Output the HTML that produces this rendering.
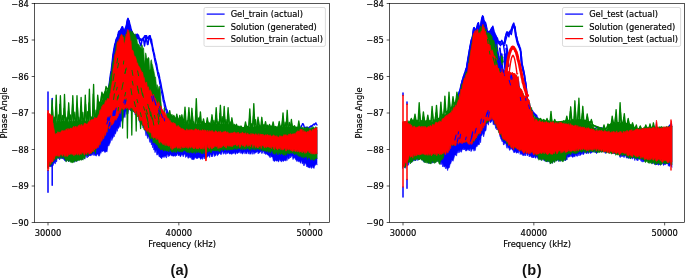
<!DOCTYPE html>
<html><head><meta charset="utf-8"><title>Phase angle vs frequency</title>
<style>
html,body{margin:0;padding:0;background:#fff;}
svg{display:block;will-change:transform;}
.tl{font-family:"DejaVu Sans","Liberation Sans",sans-serif;font-size:8.33px;fill:#000;stroke:#000;stroke-width:0.16px;}
.pl{font-family:"Liberation Sans","DejaVu Sans",sans-serif;font-size:14.6px;font-weight:bold;fill:#111;}
.tk{stroke:#000;stroke-width:0.67;}
.sp{fill:none;stroke:#000;stroke-width:0.67;}
.lg{fill:#fff;fill-opacity:0.8;stroke:#ccc;stroke-width:0.7;}
</style></head>
<body>
<svg width="685" height="278" viewBox="0 0 685 278">
<rect width="685" height="278" fill="#fff"/>
<defs>
<clipPath id="ca"><rect x="34.6" y="3.5" width="295.0" height="219.0"/></clipPath>
<clipPath id="cb"><rect x="389.6" y="3.5" width="295.0" height="219.0"/></clipPath>
</defs>
<g clip-path="url(#ca)">
<path d="M47.6,113.5 48.2,114.3 48.8,115.2 49.4,114.9 50.0,115.8 50.6,117.6 51.2,116.6 51.8,119.8 52.4,124.5 53.0,127.6 53.6,130.7 54.2,132.0 54.8,133.4 55.4,135.3 56.0,135.1 56.6,134.9 57.2,135.4 57.8,134.9 58.4,134.5 59.0,134.8 59.6,133.6 60.2,133.3 60.8,133.8 61.4,132.8 62.0,132.6 62.6,133.1 63.2,132.8 63.8,133.3 64.4,132.6 65.0,132.2 65.6,132.0 66.2,131.4 66.8,130.8 67.4,130.8 68.0,131.4 68.6,130.4 69.2,130.4 69.8,129.7 70.4,130.7 71.0,129.5 71.6,129.5 72.2,130.2 72.8,129.5 73.4,129.8 74.0,129.4 74.6,129.3 75.2,128.2 75.8,128.7 76.4,128.5 77.0,128.8 77.6,127.9 78.2,128.1 78.8,127.1 79.4,127.4 80.0,127.1 80.6,126.7 81.2,127.5 81.8,126.6 82.4,127.3 83.0,126.4 83.6,126.2 84.2,126.0 84.8,125.7 85.4,124.7 86.0,124.8 86.6,124.3 87.2,124.3 87.8,123.5 88.4,124.6 89.0,123.2 89.6,123.6 90.2,122.8 90.8,123.4 91.4,123.4 92.0,118.8 92.6,119.6 93.2,119.3 93.8,118.7 94.4,117.6 95.0,116.3 95.6,115.9 96.2,116.7 96.8,115.5 97.4,114.3 98.0,115.1 98.6,114.2 99.2,113.1 99.8,111.3 100.4,110.0 101.0,108.1 101.6,106.2 102.2,107.1 102.8,105.3 103.4,104.2 104.0,102.3 104.6,102.1 105.2,98.5 105.8,98.0 106.4,95.5 107.0,94.3 107.6,95.5 108.2,92.7 108.8,87.7 109.4,84.0 110.0,81.8 110.6,74.6 111.2,71.8 111.8,68.3 112.4,61.5 113.0,57.2 113.6,53.0 114.2,50.2 114.8,44.8 115.4,45.3 116.0,39.3 116.6,40.0 117.2,38.4 117.8,34.7 118.4,33.8 119.0,33.2 119.6,30.7 120.2,31.3 120.8,30.8 121.4,28.8 122.0,27.5 122.6,27.4 123.2,29.0 123.8,31.5 124.4,31.8 125.0,30.2 125.6,30.2 126.2,26.9 126.8,23.4 127.4,20.6 128.0,19.6 128.6,20.5 129.2,24.8 129.8,25.7 130.4,28.9 131.0,48.4 131.6,48.9 132.2,50.9 132.8,52.8 133.4,55.3 134.0,55.4 134.6,58.3 135.2,57.4 135.8,59.8 136.4,61.4 137.0,64.0 137.6,63.4 138.2,66.2 138.8,67.2 139.4,68.6 140.0,69.6 140.6,71.8 141.2,71.5 141.8,73.0 142.4,74.0 143.0,75.1 143.6,77.0 144.2,80.5 144.8,81.8 145.4,81.3 146.0,84.1 146.6,85.1 147.2,86.7 147.8,88.2 148.4,88.6 149.0,91.7 149.6,91.7 150.2,93.4 150.8,94.4 151.4,94.2 152.0,94.7 152.6,96.3 153.2,97.8 153.8,98.7 154.4,99.3 155.0,98.9 155.6,101.3 156.2,101.9 156.8,102.9 157.4,103.1 158.0,105.0 158.6,104.0 159.2,105.0 159.8,105.9 160.4,107.5 161.0,108.5 161.6,109.3 162.2,111.2 162.8,111.0 163.4,113.3 164.0,113.3 164.6,115.3 165.2,114.7 165.8,116.1 166.4,118.2 167.0,118.2 167.6,119.5 168.2,120.0 168.8,120.7 169.4,120.6 170.0,122.2 170.6,121.9 171.2,124.2 171.8,124.9 172.4,125.0 173.0,124.1 173.6,124.9 174.2,125.3 174.8,125.3 175.4,126.5 176.0,127.2 176.6,126.8 177.2,128.0 177.8,128.3 178.4,127.6 179.0,129.0 179.6,129.5 180.2,128.8 180.8,129.8 181.4,130.1 182.0,130.2 182.6,129.6 183.2,130.6 183.8,130.7 184.4,131.1 185.0,131.3 185.6,130.8 186.2,131.5 186.8,131.9 187.4,132.1 188.0,131.2 188.6,131.2 189.2,132.2 189.8,131.8 190.4,132.2 191.0,132.7 191.6,131.9 192.2,131.7 192.8,131.9 193.4,132.2 194.0,131.4 194.6,132.0 195.2,128.0 195.8,130.6 196.4,133.1 197.0,131.8 197.6,131.8 198.2,132.1 198.8,131.7 199.4,131.8 200.0,131.9 200.6,132.1 201.2,131.7 201.8,132.6 202.4,132.4 203.0,132.1 203.6,131.9 204.2,132.8 204.8,132.0 205.4,132.0 206.0,132.1 206.6,132.1 207.2,133.2 207.8,132.4 208.4,132.5 209.0,133.2 209.6,133.0 210.2,132.5 210.8,132.8 211.4,133.4 212.0,132.8 212.6,133.3 213.2,132.5 213.8,133.4 214.4,133.5 215.0,133.6 215.6,133.5 216.2,133.1 216.8,132.8 217.4,133.4 218.0,133.7 218.6,133.0 219.2,133.2 219.8,133.6 220.4,133.9 221.0,134.1 221.6,133.2 222.2,133.3 222.8,134.1 223.4,134.0 224.0,134.1 224.6,134.5 225.2,134.5 225.8,134.4 226.4,134.4 227.0,133.9 227.6,134.3 228.2,133.7 228.8,134.5 229.4,134.6 230.0,134.5 230.6,134.2 231.2,134.2 231.8,134.3 232.4,133.8 233.0,134.9 233.6,134.6 234.2,134.4 234.8,134.7 235.4,134.9 236.0,134.5 236.6,135.2 237.2,135.3 237.8,134.7 238.4,134.4 239.0,135.2 239.6,135.6 240.2,134.5 240.8,135.3 241.4,135.5 242.0,135.7 242.6,134.7 243.2,134.7 243.8,135.9 244.4,134.8 245.0,134.9 245.6,135.5 246.2,135.4 246.8,135.8 247.4,135.1 248.0,136.1 248.6,135.2 249.2,136.0 249.8,135.1 250.4,135.7 251.0,135.2 251.6,135.6 252.2,135.7 252.8,136.2 253.4,135.9 254.0,135.5 254.6,136.7 255.2,136.6 255.8,136.7 256.4,135.9 257.0,136.1 257.6,136.0 258.2,135.9 258.8,135.8 259.4,136.5 260.0,136.0 260.6,136.1 261.2,137.1 261.8,136.6 262.4,136.3 263.0,137.0 263.6,136.5 264.2,136.9 264.8,136.6 265.4,137.0 266.0,137.2 266.6,137.1 267.2,136.9 267.8,137.5 268.4,137.7 269.0,136.8 269.6,136.8 270.2,136.8 270.8,138.0 271.4,138.0 272.0,137.1 272.6,138.1 273.2,137.2 273.8,137.6 274.4,137.6 275.0,138.2 275.6,137.1 276.2,137.6 276.8,138.0 277.4,137.3 278.0,137.6 278.6,137.9 279.2,138.4 279.8,138.2 280.4,138.2 281.0,138.0 281.6,137.8 282.2,137.9 282.8,137.6 283.4,137.6 284.0,136.9 284.6,136.6 285.2,137.3 285.8,136.4 286.4,137.3 287.0,136.8 287.6,136.4 288.2,137.1 288.8,135.9 289.4,136.3 290.0,135.7 290.6,136.7 291.2,136.1 291.8,136.3 292.4,135.5 293.0,136.1 293.6,135.9 294.2,135.7 294.8,136.1 295.4,135.1 296.0,134.6 296.6,134.7 297.2,134.5 297.8,133.2 298.4,133.4 299.0,132.1 299.6,132.3 300.2,132.2 300.8,130.6 301.4,131.2 302.0,130.2 302.6,132.8 303.2,132.6 303.8,133.1 304.4,133.6 305.0,133.3 305.6,133.5 306.2,132.5 306.8,133.0 307.4,132.9 308.0,133.3 308.6,132.0 309.2,132.5 309.8,132.6 310.4,132.4 311.0,131.4 311.6,131.9 312.2,131.1 312.8,130.8 313.4,131.6 314.0,130.4 314.6,130.5 315.2,130.7 315.8,130.4 316.4,129.9 317.0,130.0 L317.0,165.1 316.4,163.3 315.8,164.7 315.2,165.5 314.6,165.9 314.0,168.5 313.4,167.7 312.8,167.7 312.2,165.8 311.6,168.3 311.0,168.3 310.4,166.1 309.8,167.8 309.2,168.0 308.6,167.1 308.0,167.6 307.4,166.3 306.8,167.0 306.2,164.8 305.6,163.6 305.0,163.0 304.4,165.3 303.8,165.9 303.2,162.4 302.6,164.1 302.0,162.6 301.4,160.0 300.8,163.4 300.2,162.7 299.6,161.3 299.0,161.6 298.4,161.8 297.8,159.7 297.2,161.4 296.6,161.3 296.0,159.8 295.4,159.5 294.8,157.8 294.2,158.0 293.6,158.1 293.0,159.6 292.4,156.1 291.8,155.7 291.2,156.9 290.6,157.9 290.0,155.2 289.4,158.4 288.8,158.6 288.2,159.3 287.6,156.5 287.0,160.7 286.4,158.5 285.8,161.2 285.2,159.9 284.6,160.2 284.0,161.1 283.4,161.4 282.8,160.4 282.2,160.9 281.6,162.1 281.0,160.2 280.4,161.3 279.8,159.8 279.2,160.0 278.6,161.9 278.0,161.6 277.4,160.2 276.8,161.2 276.2,161.0 275.6,159.8 275.0,161.3 274.4,161.3 273.8,161.2 273.2,160.5 272.6,157.1 272.0,157.1 271.4,156.9 270.8,155.3 270.2,157.8 269.6,157.1 269.0,155.7 268.4,155.6 267.8,155.1 267.2,154.7 266.6,153.4 266.0,154.6 265.4,154.2 264.8,151.9 264.2,153.8 263.6,151.3 263.0,151.3 262.4,153.1 261.8,153.7 261.2,151.3 260.6,151.7 260.0,152.0 259.4,153.2 258.8,151.9 258.2,154.0 257.6,151.3 257.0,152.3 256.4,152.2 255.8,152.7 255.2,153.1 254.6,152.7 254.0,154.3 253.4,152.6 252.8,151.6 252.2,154.4 251.6,151.5 251.0,153.5 250.4,154.2 249.8,154.2 249.2,151.6 248.6,154.1 248.0,152.3 247.4,151.4 246.8,154.1 246.2,153.0 245.6,152.2 245.0,154.1 244.4,151.5 243.8,152.6 243.2,153.1 242.6,154.1 242.0,153.7 241.4,152.2 240.8,153.5 240.2,151.6 239.6,151.7 239.0,153.2 238.4,152.1 237.8,153.2 237.2,153.7 236.6,152.1 236.0,153.5 235.4,154.4 234.8,153.6 234.2,152.6 233.6,153.4 233.0,153.0 232.4,154.1 231.8,153.8 231.2,154.4 230.6,153.6 230.0,154.1 229.4,154.0 228.8,152.9 228.2,152.4 227.6,153.1 227.0,154.0 226.4,151.7 225.8,154.5 225.2,152.0 224.6,153.5 224.0,151.8 223.4,154.3 222.8,152.2 222.2,151.5 221.6,153.9 221.0,154.8 220.4,153.9 219.8,152.9 219.2,153.8 218.6,154.1 218.0,155.3 217.4,155.8 216.8,152.9 216.2,154.7 215.6,155.8 215.0,155.4 214.4,156.6 213.8,153.6 213.2,154.0 212.6,156.5 212.0,156.4 211.4,157.0 210.8,154.3 210.2,154.7 209.6,157.5 209.0,156.0 208.4,155.7 207.8,156.4 207.2,157.2 206.6,157.8 206.0,157.5 205.4,156.4 204.8,157.3 204.2,159.0 203.6,156.7 203.0,157.6 202.4,159.4 201.8,158.4 201.2,158.2 200.6,159.4 200.0,158.3 199.4,157.4 198.8,158.1 198.2,157.6 197.6,158.2 197.0,159.0 196.4,157.9 195.8,158.2 195.2,157.0 194.6,158.2 194.0,159.8 193.4,159.6 192.8,158.8 192.2,159.9 191.6,159.0 191.0,156.7 190.4,158.1 189.8,157.8 189.2,156.2 188.6,158.0 188.0,158.4 187.4,155.5 186.8,156.7 186.2,155.8 185.6,157.5 185.0,154.1 184.4,154.3 183.8,155.1 183.2,156.8 182.6,154.4 182.0,155.4 181.4,154.0 180.8,156.5 180.2,156.7 179.6,155.2 179.0,154.9 178.4,155.9 177.8,153.7 177.2,154.3 176.6,156.0 176.0,155.1 175.4,156.4 174.8,156.0 174.2,155.7 173.6,155.9 173.0,156.4 172.4,155.7 171.8,155.9 171.2,155.4 170.6,154.1 170.0,155.5 169.4,156.2 168.8,154.7 168.2,156.8 167.6,155.1 167.0,154.4 166.4,158.1 165.8,157.0 165.2,156.1 164.6,156.2 164.0,157.7 163.4,156.6 162.8,157.2 162.2,156.9 161.6,158.9 161.0,157.1 160.4,157.9 159.8,156.2 159.2,157.0 158.6,154.8 158.0,153.3 157.4,155.0 156.8,155.1 156.2,150.5 155.6,151.0 155.0,152.7 154.4,148.9 153.8,150.1 153.2,145.1 152.6,147.8 152.0,143.5 151.4,144.9 150.8,140.0 150.2,142.7 149.6,141.8 149.0,137.8 148.4,136.0 147.8,138.6 147.2,136.8 146.6,132.4 146.0,135.8 145.4,132.2 144.8,128.4 144.2,128.1 143.6,125.5 143.0,128.0 142.4,122.7 141.8,124.4 141.2,123.9 140.6,123.4 140.0,122.4 139.4,121.5 138.8,118.8 138.2,115.2 137.6,113.4 137.0,114.9 136.4,113.2 135.8,112.4 135.2,115.0 134.6,112.2 134.0,112.4 133.4,111.4 132.8,110.0 132.2,111.2 131.6,110.7 131.0,110.6 130.4,110.7 129.8,109.3 129.2,109.6 128.6,110.2 128.0,113.7 127.4,112.8 126.8,114.4 126.2,111.1 125.6,111.9 125.0,117.6 124.4,115.6 123.8,117.7 123.2,118.5 122.6,123.2 122.0,120.8 121.4,120.7 120.8,121.7 120.2,127.2 119.6,124.7 119.0,127.6 118.4,128.5 117.8,128.3 117.2,131.4 116.6,129.1 116.0,132.6 115.4,134.2 114.8,133.5 114.2,136.8 113.6,135.4 113.0,138.0 112.4,138.8 111.8,140.6 111.2,136.4 110.6,141.4 110.0,143.2 109.4,144.6 108.8,146.1 108.2,144.4 107.6,147.9 107.0,152.1 106.4,151.3 105.8,151.7 105.2,152.4 104.6,152.2 104.0,150.9 103.4,150.9 102.8,151.4 102.2,151.6 101.6,150.9 101.0,153.3 100.4,152.6 99.8,155.1 99.2,156.2 98.6,156.0 98.0,154.2 97.4,153.9 96.8,155.0 96.2,156.2 95.6,155.5 95.0,155.3 94.4,155.3 93.8,153.0 93.2,155.6 92.6,154.2 92.0,154.7 91.4,155.1 90.8,156.1 90.2,154.9 89.6,156.0 89.0,155.2 88.4,156.9 87.8,155.4 87.2,158.0 86.6,156.8 86.0,155.6 85.4,156.3 84.8,159.2 84.2,156.7 83.6,157.3 83.0,159.1 82.4,159.8 81.8,158.8 81.2,159.7 80.6,159.7 80.0,158.9 79.4,160.0 78.8,158.9 78.2,159.0 77.6,160.5 77.0,161.4 76.4,160.5 75.8,161.2 75.2,159.4 74.6,162.3 74.0,160.3 73.4,161.0 72.8,159.8 72.2,162.0 71.6,161.8 71.0,160.2 70.4,159.8 69.8,160.9 69.2,161.5 68.6,161.1 68.0,161.3 67.4,158.8 66.8,160.7 66.2,161.1 65.6,160.9 65.0,161.2 64.4,160.2 63.8,159.4 63.2,158.8 62.6,158.6 62.0,158.8 61.4,158.5 60.8,157.2 60.2,158.7 59.6,159.9 59.0,156.9 58.4,158.7 57.8,157.8 57.2,158.5 56.6,162.0 56.0,161.1 55.4,163.8 54.8,163.4 54.2,162.5 53.6,164.3 53.0,165.8 52.4,165.0 51.8,166.6 51.2,166.3 50.6,167.1 50.0,166.4 49.4,166.5 48.8,166.2 48.2,167.2 47.6,168.0Z" fill="#0000ff" stroke="#0000ff" stroke-width="0.6" stroke-linejoin="round"/>
<polyline points="92.0,118.6 92.6,118.6 93.2,118.8 93.8,118.0 94.4,117.2 95.0,116.5 95.6,115.0 96.2,116.1 96.8,114.1 97.4,113.7 98.0,114.2 98.6,113.9 99.2,113.1 99.8,111.2 100.4,109.3 101.0,107.8 101.6,107.9 102.2,106.8 102.8,104.2 103.4,104.0 104.0,101.8 104.6,100.2 105.2,99.0 105.8,96.6 106.4,95.9 107.0,94.0 107.6,93.4 108.2,90.6 108.8,87.1 109.4,82.9 110.0,77.7 110.6,73.4 111.2,70.4 111.8,65.4 112.4,59.8 113.0,54.4 113.6,50.9 114.2,47.6 114.8,44.2 115.4,42.5 116.0,40.0 116.6,38.2 117.2,37.4 117.8,35.7 118.4,32.5 119.0,31.1 119.6,30.9 120.2,31.0 120.8,29.6 121.4,28.4 122.0,26.8 122.6,26.8 123.2,29.6 123.8,30.2 124.4,32.2 125.0,29.1 125.6,27.5 126.2,26.4 126.8,22.9 127.4,19.6 128.0,18.3 128.6,20.0 129.2,21.1 129.8,24.1 130.4,26.0 131.0,29.0 131.6,30.6 132.2,32.4 132.8,33.0 133.4,34.6 134.0,34.4 134.6,36.3 135.2,36.6 135.8,35.1 136.4,34.4 137.0,34.5 137.6,34.2 138.2,36.6 138.8,37.1 139.4,38.7 140.0,38.4 140.6,39.3 141.2,40.2 141.8,39.1 142.4,40.0 143.0,38.6 143.6,37.4 144.2,36.6 144.8,35.7 145.4,35.7 146.0,36.0 146.6,35.7 147.2,37.4 147.8,38.6 148.4,38.2 149.0,36.9 149.6,35.7 150.2,35.8 150.8,38.9 151.4,39.2 152.0,43.3 152.6,46.5 153.2,49.2 153.8,51.9 154.4,54.2 155.0,57.7 155.6,60.1 156.2,62.4 156.8,65.0 157.4,68.8 158.0,71.7 158.6,73.0 159.2,75.5 159.8,78.7 160.4,81.3 161.0,84.2 161.6,87.8 162.2,90.4 162.8,93.5 163.4,96.3 164.0,100.3 164.6,102.0 165.2,104.6 165.8,107.1 166.4,109.7 167.0,110.0 167.6,112.4 168.2,113.2 168.8,115.7 169.4,116.3 170.0,118.0 170.6,119.4 171.2,119.8 171.8,119.4 172.4,120.2 173.0,122.5 173.6,121.5 174.2,122.7 174.8,124.6 175.4,123.3 176.0,123.9 176.6,124.3 177.2,124.4 177.8,125.3 178.4,125.9 179.0,125.7 179.6,125.6 180.2,127.2 180.8,127.4" fill="none" stroke="#0000ff" stroke-width="1.45" stroke-linejoin="round" stroke-linecap="round"/>
<polyline points="92.8,119.9 93.4,119.5 94.0,118.6 94.6,118.9 95.1,117.5 95.7,117.2 96.3,116.0 96.9,116.3 97.5,116.2 98.1,115.6 98.7,114.2 99.2,115.0 99.8,113.8 100.4,111.9 101.0,110.6 101.6,109.9 102.2,107.5 102.8,107.0 103.4,105.8 103.9,104.1 104.5,103.5 105.1,101.2 105.7,99.7 106.3,97.9 106.9,97.6 107.5,95.0 108.1,94.2 108.6,91.2 109.2,88.0 109.8,83.8 110.4,78.0 111.0,75.5 111.6,70.6 112.2,65.4 112.7,61.3 113.3,55.2 113.9,50.9 114.5,47.7 115.1,45.6 115.7,42.9 116.3,41.0 116.9,39.7 117.4,38.2 118.0,35.3 118.6,34.1 119.2,31.7 119.8,31.6 120.4,32.0 121.0,29.4 121.5,29.5 122.1,27.7 122.7,27.7 123.3,30.3 123.9,31.5 124.5,33.3 125.1,29.7 125.7,27.7 126.2,26.8 126.8,23.5 127.4,20.5 128.0,19.2 128.6,20.1 129.2,22.8 129.8,25.7 130.3,28.3 130.9,29.0 131.5,31.8 132.1,34.1 132.7,34.1 133.3,35.6 133.9,35.1 134.5,37.1 135.0,36.7 135.6,36.6 136.2,35.8 136.8,35.3 137.4,34.6 138.0,37.2 138.6,37.8 139.2,38.6 139.7,39.2 140.3,40.0 140.9,40.5 141.5,41.4 142.1,39.3 142.7,38.7 143.3,38.2 143.8,38.3 144.4,37.4 145.0,37.0 145.6,37.1 146.2,37.5 146.8,37.5 147.4,37.8 148.0,38.0 148.5,37.7 149.1,36.2 149.7,36.4 150.3,38.7 150.9,40.3 151.5,43.6 152.1,46.7 152.6,50.6 153.2,52.4 153.8,55.4 154.4,58.6 155.0,61.9 155.6,64.2 156.2,66.4 156.8,69.6 157.3,71.7 157.9,75.3 158.5,76.8 159.1,79.2 159.7,83.3 160.3,85.2 160.9,89.1 161.4,91.5 162.0,94.5 162.6,96.9 163.2,101.3 163.8,102.4 164.4,106.4 165.0,108.7 165.6,109.4 166.1,110.6 166.7,113.5 167.3,114.3 167.9,115.1 168.5,117.3 169.1,118.3 169.7,119.4 170.3,120.5 170.8,121.7 171.4,122.2 172.0,121.8 172.6,123.1 173.2,123.8 173.8,125.4 174.4,124.3 174.9,125.3 175.5,126.3 176.1,125.7 176.7,125.8 177.3,126.6 177.9,126.5 178.5,127.9 179.1,126.7 179.6,127.2" fill="none" stroke="#0000ff" stroke-width="1.2" stroke-linejoin="round" stroke-linecap="round"/>
<polyline points="131.0,30.0 131.5,31.5 132.0,33.0 132.5,34.5 133.0,36.0 133.5,37.0 134.0,38.0 134.5,39.0 135.0,40.0 135.5,37.7 136.0,35.5 136.5,35.3 137.0,38.2 137.5,38.8 138.0,35.9 138.5,35.4 139.0,38.7 139.5,42.0 140.0,43.3 140.5,44.7 141.0,46.0 141.5,43.0 142.0,40.0 142.5,39.5 143.0,39.0 143.5,38.5 144.0,42.2 144.5,46.0 145.0,43.0 145.5,40.0 146.0,36.2 146.5,39.1 147.0,42.0 147.5,44.5 148.0,44.5 148.5,40.7 149.0,38.1 149.5,35.7 150.0,37.3 150.5,40.0 151.0,42.0 151.5,44.0" fill="none" stroke="#0000ff" stroke-width="1.5" stroke-linejoin="round" stroke-linecap="round"/>
<polyline points="48.0,92.0 48.0,110.7" fill="none" stroke="#0000ff" stroke-width="1.5" stroke-linejoin="round" stroke-linecap="round"/>
<polyline points="48.0,170.3 48.0,192.3" fill="none" stroke="#0000ff" stroke-width="1.5" stroke-linejoin="round" stroke-linecap="round"/>
<polyline points="52.2,98.6 52.2,115.9" fill="none" stroke="#0000ff" stroke-width="1.5" stroke-linejoin="round" stroke-linecap="round"/>
<polyline points="52.2,161.6 52.2,185.2" fill="none" stroke="#0000ff" stroke-width="1.5" stroke-linejoin="round" stroke-linecap="round"/>
<polyline points="296.0,128.7 296.6,129.5 297.2,129.4 297.8,129.3 298.4,128.1 299.0,127.6 299.6,128.1 300.2,128.9 300.8,128.5 301.4,126.0 302.0,125.2 302.6,123.6 303.2,123.8 303.8,125.4 304.4,127.7 305.0,128.1 305.6,127.4 306.2,127.1 306.8,128.2 307.4,127.3 308.0,127.8 308.6,128.4 309.2,127.3 309.8,126.8 310.4,127.1 311.0,125.7 311.6,126.5 312.2,126.1 312.8,124.9 313.4,124.6 314.0,124.0 314.6,125.0 315.2,123.6 315.8,122.9 316.4,124.0 317.0,125.0" fill="none" stroke="#0000ff" stroke-width="1.4" stroke-linejoin="round" stroke-linecap="round"/>
<path d="M47.6,122.0 48.2,121.5 48.8,122.2 49.4,121.1 50.0,121.9 50.6,121.9 51.2,121.5 51.8,121.0 52.4,121.4 53.0,122.1 53.6,121.0 54.2,120.8 54.8,121.5 55.4,121.1 56.0,122.2 56.6,122.2 57.2,122.5 57.8,122.3 58.4,121.9 59.0,121.0 59.6,122.2 60.2,122.1 60.8,122.1 61.4,122.0 62.0,122.3 62.6,121.2 63.2,121.9 63.8,121.6 64.4,121.3 65.0,121.3 65.6,120.9 66.2,121.6 66.8,121.3 67.4,121.4 68.0,122.3 68.6,122.0 69.2,122.0 69.8,122.6 70.4,121.0 71.0,121.6 71.6,120.8 72.2,121.4 72.8,122.5 73.4,120.8 74.0,122.1 74.6,122.3 75.2,121.6 75.8,122.2 76.4,121.5 77.0,121.3 77.6,121.6 78.2,121.0 78.8,121.2 79.4,121.2 80.0,122.6 80.6,121.3 81.2,121.1 81.8,122.5 82.4,120.9 83.0,122.5 83.6,122.3 84.2,121.9 84.8,121.5 85.4,121.0 86.0,120.8 86.6,120.8 87.2,121.3 87.8,121.4 88.4,122.4 89.0,121.7 89.6,122.6 90.2,122.0 90.8,120.9 91.4,121.7 92.0,120.9 92.6,120.7 93.2,122.5 93.8,121.3 94.4,121.0 95.0,120.6 95.6,121.1 96.2,117.2 96.8,111.7 97.4,113.0 98.0,106.7 98.6,107.1 99.2,104.3 99.8,103.3 100.4,101.8 101.0,101.4 101.6,101.5 102.2,99.5 102.8,95.4 103.4,95.9 104.0,93.6 104.6,91.9 105.2,91.1 105.8,90.1 106.4,91.7 107.0,89.9 107.6,89.3 108.2,87.8 108.8,85.6 109.4,83.0 110.0,80.2 110.6,76.0 111.2,73.2 111.8,71.8 112.4,63.8 113.0,61.5 113.6,59.1 114.2,56.8 114.8,53.6 115.4,51.5 116.0,45.4 116.6,43.5 117.2,42.1 117.8,40.7 118.4,41.4 119.0,41.2 119.6,38.7 120.2,35.2 120.8,35.5 121.4,36.4 122.0,35.6 122.6,35.5 123.2,35.2 123.8,35.6 124.4,36.8 125.0,37.8 125.6,35.4 126.2,33.6 126.8,31.7 127.4,31.3 128.0,32.8 128.6,31.0 129.2,31.9 129.8,30.0 130.4,30.8 131.0,32.1 131.6,32.2 132.2,31.0 132.8,32.3 133.4,33.2 134.0,34.4 134.6,34.8 135.2,33.7 135.8,37.0 136.4,38.0 137.0,40.0 137.6,43.8 138.2,43.8 138.8,44.6 139.4,45.2 140.0,46.7 140.6,47.0 141.2,49.1 141.8,44.6 142.4,46.0 143.0,49.8 143.6,47.8 144.2,59.8 144.8,63.8 145.4,52.8 146.0,53.6 146.6,57.4 147.2,58.9 147.8,58.6 148.4,57.3 149.0,57.9 149.6,69.4 150.2,69.2 150.8,60.8 151.4,59.7 152.0,63.6 152.6,65.2 153.2,68.3 153.8,70.7 154.4,73.6 155.0,77.1 155.6,77.1 156.2,83.5 156.8,87.6 157.4,84.7 158.0,90.1 158.6,87.5 159.2,86.1 159.8,87.5 160.4,91.7 161.0,101.8 161.6,107.6 162.2,116.3 162.8,118.4 163.4,119.2 164.0,107.8 164.6,107.5 165.2,117.5 165.8,117.2 166.4,114.3 167.0,113.3 167.6,113.2 168.2,114.5 168.8,115.2 169.4,117.0 170.0,115.5 170.6,116.3 171.2,118.2 171.8,118.3 172.4,118.0 173.0,118.1 173.6,117.5 174.2,119.3 174.8,119.3 175.4,119.0 176.0,118.4 176.6,118.8 177.2,119.5 177.8,119.7 178.4,119.4 179.0,120.5 179.6,120.9 180.2,120.8 180.8,121.3 181.4,121.4 182.0,121.7 182.6,122.4 183.2,122.3 183.8,121.8 184.4,123.4 185.0,122.9 185.6,123.0 186.2,123.7 186.8,124.0 187.4,124.4 188.0,124.5 188.6,124.4 189.2,124.7 189.8,123.5 190.4,124.7 191.0,123.8 191.6,123.8 192.2,123.6 192.8,124.1 193.4,123.4 194.0,124.6 194.6,124.8 195.2,124.9 195.8,123.6 196.4,124.6 197.0,125.0 197.6,123.4 198.2,123.7 198.8,123.9 199.4,124.3 200.0,123.7 200.6,124.5 201.2,124.1 201.8,124.7 202.4,124.5 203.0,124.8 203.6,123.9 204.2,124.8 204.8,124.9 205.4,124.9 206.0,123.6 206.6,125.3 207.2,124.6 207.8,124.0 208.4,124.3 209.0,124.5 209.6,124.5 210.2,123.9 210.8,124.0 211.4,124.2 212.0,125.0 212.6,124.3 213.2,123.6 213.8,124.4 214.4,123.9 215.0,123.5 215.6,125.5 216.2,124.1 216.8,124.6 217.4,124.2 218.0,123.6 218.6,125.3 219.2,125.4 219.8,123.9 220.4,124.4 221.0,124.3 221.6,123.9 222.2,124.9 222.8,125.1 223.4,125.1 224.0,124.9 224.6,123.6 225.2,124.0 225.8,124.6 226.4,125.0 227.0,124.4 227.6,124.5 228.2,125.3 228.8,123.6 229.4,124.1 230.0,124.2 230.6,126.0 231.2,124.4 231.8,124.2 232.4,125.2 233.0,125.9 233.6,125.0 234.2,126.7 234.8,125.4 235.4,126.8 236.0,125.7 236.6,127.5 237.2,126.2 237.8,127.6 238.4,128.0 239.0,126.8 239.6,126.6 240.2,127.8 240.8,127.6 241.4,127.5 242.0,128.1 242.6,127.4 243.2,127.4 243.8,127.4 244.4,127.3 245.0,127.2 245.6,126.6 246.2,126.9 246.8,126.8 247.4,126.7 248.0,127.8 248.6,126.4 249.2,126.6 249.8,127.2 250.4,126.7 251.0,126.5 251.6,126.8 252.2,127.0 252.8,127.3 253.4,127.9 254.0,127.6 254.6,126.7 255.2,126.8 255.8,126.7 256.4,126.3 257.0,127.7 257.6,125.9 258.2,126.1 258.8,127.0 259.4,126.8 260.0,126.2 260.6,127.5 261.2,126.5 261.8,126.8 262.4,125.8 263.0,127.5 263.6,125.9 264.2,126.5 264.8,127.5 265.4,127.6 266.0,127.6 266.6,127.4 267.2,126.2 267.8,125.9 268.4,126.7 269.0,125.9 269.6,127.8 270.2,125.9 270.8,126.5 271.4,126.3 272.0,125.9 272.6,126.9 273.2,126.1 273.8,127.8 274.4,127.3 275.0,126.7 275.6,127.7 276.2,127.6 276.8,126.7 277.4,127.7 278.0,127.9 278.6,127.3 279.2,126.8 279.8,127.9 280.4,128.0 281.0,126.8 281.6,126.3 282.2,127.9 282.8,127.5 283.4,126.6 284.0,127.3 284.6,126.8 285.2,128.1 285.8,126.9 286.4,126.7 287.0,126.4 287.6,127.0 288.2,128.3 288.8,126.8 289.4,127.3 290.0,128.3 290.6,126.4 291.2,127.0 291.8,128.1 292.4,126.6 293.0,128.3 293.6,128.1 294.2,126.7 294.8,127.7 295.4,127.6 296.0,127.9 296.6,127.1 297.2,127.3 297.8,127.0 298.4,127.1 299.0,126.9 299.6,128.4 300.2,128.4 300.8,127.3 301.4,128.0 302.0,127.6 302.6,127.2 303.2,127.3 303.8,128.5 304.4,127.3 305.0,127.8 305.6,128.5 306.2,127.2 306.8,128.2 307.4,126.8 308.0,128.1 308.6,128.2 309.2,128.3 309.8,128.6 310.4,128.0 311.0,128.6 311.6,127.2 312.2,127.6 312.8,127.0 313.4,126.8 314.0,127.5 314.6,128.0 315.2,128.2 315.8,126.6 316.4,128.5 317.0,127.1 L317.0,158.9 316.4,156.8 315.8,158.8 315.2,157.9 314.6,160.2 314.0,158.9 313.4,160.4 312.8,159.7 312.2,158.7 311.6,158.2 311.0,160.1 310.4,160.0 309.8,157.9 309.2,157.7 308.6,157.6 308.0,157.7 307.4,159.5 306.8,156.4 306.2,157.1 305.6,157.1 305.0,156.4 304.4,157.7 303.8,158.3 303.2,155.6 302.6,157.4 302.0,156.6 301.4,157.4 300.8,154.9 300.2,156.5 299.6,156.5 299.0,155.1 298.4,156.3 297.8,153.5 297.2,155.4 296.6,153.5 296.0,154.1 295.4,153.0 294.8,154.9 294.2,153.5 293.6,153.7 293.0,152.7 292.4,152.3 291.8,153.6 291.2,152.8 290.6,152.7 290.0,152.8 289.4,154.2 288.8,153.2 288.2,153.9 287.6,152.8 287.0,153.1 286.4,155.4 285.8,152.7 285.2,154.9 284.6,155.5 284.0,154.8 283.4,154.9 282.8,154.5 282.2,154.1 281.6,153.5 281.0,153.9 280.4,154.7 279.8,153.9 279.2,152.5 278.6,152.7 278.0,155.0 277.4,154.0 276.8,152.6 276.2,152.5 275.6,153.7 275.0,154.5 274.4,153.7 273.8,152.5 273.2,154.1 272.6,151.5 272.0,150.7 271.4,150.7 270.8,152.5 270.2,153.0 269.6,151.0 269.0,151.3 268.4,152.5 267.8,150.1 267.2,151.4 266.6,151.9 266.0,151.3 265.4,151.1 264.8,150.1 264.2,151.0 263.6,150.9 263.0,150.5 262.4,149.1 261.8,150.8 261.2,148.7 260.6,148.7 260.0,150.1 259.4,149.7 258.8,149.5 258.2,148.7 257.6,149.0 257.0,149.0 256.4,148.5 255.8,150.4 255.2,148.2 254.6,148.1 254.0,149.9 253.4,148.1 252.8,149.7 252.2,148.1 251.6,148.4 251.0,148.8 250.4,150.3 249.8,150.2 249.2,149.4 248.6,149.1 248.0,148.3 247.4,147.5 246.8,149.3 246.2,147.6 245.6,149.8 245.0,148.1 244.4,148.7 243.8,149.7 243.2,150.0 242.6,148.2 242.0,147.6 241.4,150.1 240.8,148.4 240.2,149.0 239.6,148.2 239.0,148.7 238.4,148.1 237.8,147.8 237.2,149.6 236.6,148.3 236.0,149.7 235.4,148.6 234.8,148.7 234.2,148.2 233.6,149.5 233.0,149.8 232.4,148.7 231.8,150.1 231.2,149.3 230.6,150.0 230.0,149.0 229.4,150.3 228.8,150.0 228.2,149.7 227.6,149.3 227.0,150.7 226.4,150.1 225.8,149.4 225.2,149.7 224.6,148.8 224.0,149.9 223.4,151.0 222.8,150.1 222.2,149.3 221.6,149.5 221.0,149.1 220.4,151.2 219.8,151.5 219.2,151.8 218.6,151.3 218.0,150.1 217.4,150.7 216.8,150.7 216.2,151.3 215.6,150.2 215.0,150.9 214.4,150.8 213.8,150.9 213.2,150.2 212.6,150.6 212.0,150.3 211.4,152.5 210.8,152.7 210.2,151.6 209.6,151.3 209.0,150.3 208.4,151.8 207.8,152.4 207.2,150.7 206.6,152.7 206.0,158.5 205.4,153.5 204.8,150.0 204.2,153.7 203.6,151.6 203.0,151.5 202.4,153.9 201.8,152.7 201.2,153.7 200.6,151.5 200.0,152.2 199.4,153.1 198.8,152.1 198.2,151.6 197.6,151.9 197.0,152.9 196.4,151.1 195.8,151.3 195.2,153.7 194.6,151.2 194.0,152.2 193.4,152.3 192.8,153.2 192.2,152.7 191.6,152.7 191.0,151.6 190.4,151.7 189.8,153.2 189.2,153.0 188.6,151.9 188.0,152.3 187.4,152.7 186.8,150.8 186.2,152.2 185.6,150.8 185.0,150.4 184.4,150.6 183.8,151.1 183.2,150.4 182.6,152.0 182.0,152.2 181.4,150.7 180.8,152.2 180.2,151.3 179.6,151.9 179.0,150.1 178.4,151.7 177.8,150.7 177.2,150.5 176.6,152.3 176.0,152.5 175.4,150.7 174.8,150.4 174.2,152.5 173.6,150.2 173.0,151.7 172.4,152.2 171.8,152.1 171.2,151.6 170.6,150.8 170.0,149.4 169.4,149.7 168.8,152.0 168.2,149.7 167.6,150.7 167.0,151.2 166.4,151.1 165.8,150.1 165.2,150.5 164.6,148.4 164.0,151.2 163.4,150.7 162.8,148.6 162.2,150.0 161.6,149.2 161.0,150.1 160.4,149.9 159.8,148.4 159.2,147.0 158.6,148.1 158.0,145.7 157.4,145.4 156.8,144.1 156.2,144.6 155.6,143.8 155.0,141.7 154.4,143.1 153.8,140.2 153.2,143.0 152.6,139.0 152.0,138.9 151.4,137.5 150.8,139.2 150.2,138.9 149.6,137.0 149.0,135.0 148.4,133.8 147.8,133.7 147.2,132.7 146.6,131.1 146.0,129.0 145.4,130.1 144.8,130.3 144.2,130.0 143.6,128.7 143.0,124.2 142.4,126.1 141.8,124.3 141.2,121.4 140.6,120.6 140.0,120.2 139.4,120.3 138.8,120.5 138.2,114.7 137.6,116.9 137.0,116.1 136.4,115.1 135.8,115.2 135.2,111.6 134.6,113.0 134.0,110.9 133.4,111.6 132.8,110.9 132.2,109.4 131.6,110.7 131.0,111.1 130.4,106.0 129.8,108.2 129.2,106.6 128.6,107.3 128.0,106.7 127.4,106.5 126.8,107.4 126.2,107.2 125.6,107.9 125.0,109.0 124.4,108.3 123.8,109.2 123.2,109.2 122.6,108.5 122.0,110.3 121.4,109.9 120.8,111.0 120.2,111.1 119.6,110.3 119.0,111.0 118.4,112.4 117.8,115.6 117.2,117.0 116.6,115.3 116.0,116.2 115.4,119.7 114.8,119.0 114.2,119.5 113.6,121.5 113.0,120.4 112.4,123.8 111.8,124.9 111.2,122.3 110.6,125.0 110.0,124.0 109.4,125.5 108.8,128.2 108.2,128.1 107.6,128.6 107.0,131.9 106.4,130.0 105.8,131.0 105.2,133.0 104.6,134.5 104.0,136.6 103.4,137.9 102.8,136.3 102.2,139.8 101.6,138.2 101.0,140.9 100.4,142.8 99.8,145.0 99.2,142.4 98.6,145.0 98.0,146.7 97.4,145.7 96.8,147.7 96.2,145.4 95.6,153.7 95.0,150.8 94.4,151.5 93.8,151.4 93.2,151.3 92.6,152.7 92.0,152.9 91.4,153.7 90.8,153.3 90.2,153.4 89.6,152.8 89.0,153.6 88.4,154.6 87.8,156.2 87.2,153.9 86.6,154.9 86.0,153.3 85.4,155.8 84.8,158.8 84.2,158.2 83.6,157.0 83.0,160.2 82.4,158.5 81.8,159.4 81.2,160.5 80.6,158.8 80.0,160.1 79.4,160.6 78.8,160.2 78.2,160.7 77.6,160.0 77.0,161.2 76.4,161.6 75.8,160.8 75.2,161.4 74.6,160.5 74.0,162.5 73.4,162.0 72.8,162.4 72.2,163.1 71.6,162.3 71.0,162.2 70.4,162.2 69.8,160.5 69.2,160.6 68.6,162.0 68.0,160.0 67.4,160.5 66.8,160.0 66.2,162.1 65.6,160.5 65.0,159.5 64.4,158.4 63.8,157.1 63.2,156.6 62.6,158.5 62.0,157.4 61.4,156.2 60.8,158.7 60.2,156.1 59.6,156.0 59.0,158.4 58.4,157.4 57.8,157.6 57.2,158.3 56.6,159.4 56.0,158.9 55.4,158.6 54.8,160.5 54.2,159.0 53.6,161.5 53.0,161.2 52.4,162.0 51.8,164.5 51.2,163.2 50.6,165.3 50.0,166.4 49.4,165.4 48.8,165.9 48.2,166.8 47.6,168.7Z" fill="#008000" stroke="#008000" stroke-width="0.6" stroke-linejoin="round"/>
<polyline points="51.1,122.0 52.1,100.0 53.1,122.0 55.2,122.0 56.2,95.1 57.2,122.0 59.4,122.0 60.4,95.7 61.4,122.0 63.5,122.0 64.5,94.5 65.5,122.0 67.7,122.0 68.7,102.8 69.8,122.0 71.8,122.0 72.8,95.7 73.8,122.0 76.0,122.0 77.0,95.7 78.0,122.0 80.0,122.0 81.1,97.5 82.1,122.0 84.2,122.0 85.3,95.1 86.3,122.0 88.4,122.0 89.4,89.2 90.5,122.0 92.5,122.0 93.6,84.5 94.6,122.0 96.7,114.6 97.7,95.1 98.8,105.1 100.9,100.8 101.9,92.1 103.0,96.6 105.0,92.6 106.0,86.5 107.0,88.8" fill="none" stroke="#008000" stroke-width="1.35" stroke-linejoin="round" stroke-linecap="round"/>
<polyline points="51.3,122.0 52.3,107.7 53.3,122.0 55.1,122.0 56.1,107.8 57.1,122.0 58.9,122.0 59.9,104.3 60.9,122.0 63.1,122.0 64.1,108.5 65.1,122.0 67.4,122.0 68.4,110.9 69.4,122.0 71.6,122.0 72.6,104.4 73.6,122.0 76.4,122.0 77.4,106.9 78.4,122.0 80.3,122.0 81.3,109.7 82.3,122.0 84.6,122.0 85.6,104.3 86.6,122.0 88.0,122.0 89.0,102.8 90.0,122.0 92.3,122.0 93.3,94.1 94.3,122.0 97.1,112.3 98.1,101.6 99.1,104.3 100.8,100.9 101.8,94.1 102.8,96.9 105.3,92.0 106.3,88.3 107.3,88.5" fill="none" stroke="#008000" stroke-width="1.3" stroke-linejoin="round" stroke-linecap="round"/>
<polyline points="53.4,122.0 54.3,117.2 55.2,122.0 57.6,122.0 58.5,114.9 59.4,122.0 61.8,122.0 62.7,115.4 63.6,122.0 66.0,122.0 66.9,117.0 67.8,122.0 69.5,122.0 70.4,114.9 71.3,122.0 73.9,122.0 74.8,112.2 75.7,122.0 77.9,122.0 78.8,117.1 79.7,122.0 81.9,122.0 82.8,112.3 83.7,122.0 86.7,122.0 87.6,111.7 88.5,122.0 90.4,122.0 91.3,116.8 92.2,122.0 95.0,122.0 95.9,110.2 96.8,114.1 98.6,105.5 99.5,103.9 100.4,101.8 103.4,95.6 104.3,97.3 105.2,92.0" fill="none" stroke="#008000" stroke-width="1.2" stroke-linejoin="round" stroke-linecap="round"/>
<polyline points="168.6,115.6 169.7,110.7 170.8,117.3 172.8,118.1 173.8,115.4 174.9,118.9 175.8,119.4 176.8,114.2 177.9,120.4 178.8,120.9 179.8,115.4 180.9,121.9 180.8,121.9 181.9,114.8 183.0,122.6 183.9,122.9 185.0,107.1 186.1,123.5 187.8,124.1 188.9,107.7 190.0,124.7 190.8,124.7 191.9,108.3 193.0,124.7 195.2,124.7 196.3,98.6 197.4,124.8 199.3,124.8 200.4,111.9 201.5,124.8 202.4,124.8 203.5,119.0 204.6,124.8 206.2,124.8 207.3,117.8 208.4,124.8 210.9,124.9 212.0,114.8 213.1,124.9 215.1,124.9 216.2,107.7 217.2,124.9 219.3,124.9 220.4,105.3 221.5,124.9 223.1,124.9 224.2,106.5 225.2,125.0 227.0,125.0 228.1,107.7 229.2,125.0 230.8,125.3 231.9,117.8 233.0,125.9 235.3,126.6 236.4,124.3 237.5,127.2 239.9,128.0 241.0,126.0 242.1,127.9 244.4,127.8 245.5,122.0 246.6,127.7 248.8,127.6 249.8,108.9 250.9,127.5 252.8,127.4 253.8,103.6 254.9,127.3 256.9,127.2 258.0,117.2 259.1,127.0 260.8,127.0 261.8,117.3 262.9,127.1 264.4,127.1 265.5,121.7 266.6,127.2 268.4,127.2 269.5,124.5 270.6,127.3 272.1,127.3 273.1,122.0 274.2,127.4 278.1,127.5 279.2,121.5 280.2,127.5 281.9,127.5 283.0,112.9 284.1,127.6 286.1,127.7 287.2,110.3 288.2,127.7 290.3,127.8 291.4,119.5 292.4,127.8 293.4,127.8 294.5,125.8 295.6,127.9 297.8,127.9 298.8,121.0 299.9,128.0" fill="none" stroke="#008000" stroke-width="1.35" stroke-linejoin="round" stroke-linecap="round"/>
<polyline points="168.4,115.4 169.4,114.0 170.4,117.2 173.2,118.3 174.2,116.6 175.2,119.1 176.2,119.6 177.2,116.4 178.2,120.6 178.7,120.9 179.7,118.1 180.7,121.9 180.6,121.8 181.6,117.4 182.6,122.5 183.8,122.8 184.8,112.6 185.8,123.4 187.9,124.1 188.9,112.5 189.9,124.7 191.2,124.7 192.2,113.4 193.2,124.7 195.2,124.7 196.2,111.0 197.2,124.8 199.0,124.8 200.0,117.0 201.0,124.8 202.6,124.8 203.6,121.6 204.6,124.8 206.7,124.8 207.7,121.5 208.7,124.8 210.6,124.9 211.6,120.3 212.6,124.9 215.2,124.9 216.2,116.1 217.2,124.9 219.1,124.9 220.1,113.4 221.1,124.9 223.4,125.0 224.4,116.3 225.4,125.0 227.4,125.0 228.4,113.3 229.4,125.0 231.2,125.4 232.2,121.3 233.2,126.0 235.6,126.7 236.6,125.7 237.6,127.3 239.9,128.0 240.9,127.1 241.9,127.9 244.9,127.8 245.9,125.0 246.9,127.7 248.7,127.6 249.7,117.0 250.7,127.5 252.5,127.4 253.5,115.8 254.5,127.3 257.4,127.1 258.4,120.2 259.4,127.0 261.0,127.0 262.0,122.1 263.0,127.1 264.0,127.1 265.0,124.8 266.0,127.2 268.5,127.2 269.5,125.4 270.5,127.3 271.6,127.3 272.6,124.8 273.6,127.3 278.0,127.5 279.0,124.1 280.0,127.5 281.7,127.5 282.7,119.7 283.7,127.6 286.1,127.7 287.1,119.6 288.1,127.7 290.6,127.8 291.6,123.7 292.6,127.8 293.3,127.8 294.3,126.4 295.3,127.9 298.2,128.0 299.2,125.0 300.2,128.0" fill="none" stroke="#008000" stroke-width="1.3" stroke-linejoin="round" stroke-linecap="round"/>
<polyline points="171.0,117.4 171.9,114.5 172.8,118.1 175.1,119.1 176.0,117.9 176.9,120.0 177.9,120.4 178.8,119.0 179.7,121.3 181.1,122.0 182.0,120.1 182.9,122.6 182.7,122.5 183.6,119.2 184.5,123.0 186.3,123.6 187.2,120.5 188.1,124.1 190.2,124.7 191.1,121.4 192.0,124.7 192.7,124.7 193.6,121.7 194.5,124.7 197.8,124.8 198.7,117.9 199.6,124.8 201.5,124.8 202.4,121.7 203.3,124.8 204.4,124.8 205.3,123.4 206.2,124.8 208.6,124.8 209.5,122.8 210.4,124.9 213.0,124.9 213.9,120.3 214.8,124.9 217.1,124.9 218.0,121.5 218.9,124.9 221.3,124.9 222.2,116.5 223.1,124.9 225.1,125.0 226.0,119.5 226.9,125.0 229.3,125.0 230.2,121.8 231.1,125.3 233.3,126.0 234.2,124.3 235.1,126.5 237.9,127.4 238.8,126.1 239.7,127.9 241.9,127.9 242.8,127.6 243.7,127.8 246.4,127.7 247.3,126.2 248.2,127.6 250.8,127.5 251.7,123.7 252.6,127.4 254.7,127.3 255.6,119.6 256.5,127.2 258.9,127.1 259.8,125.2 260.7,127.0 263.0,127.1 263.9,124.5 264.8,127.1 266.5,127.2 267.4,125.0 268.3,127.2 270.9,127.3 271.8,126.6 272.7,127.3 274.4,127.4 275.3,126.5 276.2,127.4 280.4,127.5 281.3,125.1 282.2,127.6 284.2,127.6 285.1,122.2 286.0,127.7 288.4,127.7 289.3,122.3 290.2,127.8 292.6,127.8 293.5,126.3 294.4,127.9 295.9,127.9 296.8,127.2 297.7,127.9" fill="none" stroke="#008000" stroke-width="1.2" stroke-linejoin="round" stroke-linecap="round"/>
<polyline points="122.2,109.5 122.6,128.0 123.0,109.5" fill="none" stroke="#008000" stroke-width="1.3" stroke-linejoin="round" stroke-linecap="round"/>
<polyline points="127.0,108.5 127.4,138.0 127.8,108.5" fill="none" stroke="#008000" stroke-width="1.3" stroke-linejoin="round" stroke-linecap="round"/>
<polyline points="131.4,109.4 131.8,135.0 132.2,109.4" fill="none" stroke="#008000" stroke-width="1.3" stroke-linejoin="round" stroke-linecap="round"/>
<polyline points="135.8,112.9 136.2,131.0 136.6,112.9" fill="none" stroke="#008000" stroke-width="1.3" stroke-linejoin="round" stroke-linecap="round"/>
<polyline points="140.2,120.9 140.6,128.5 141.0,120.9" fill="none" stroke="#008000" stroke-width="1.3" stroke-linejoin="round" stroke-linecap="round"/>
<path d="M47.6,112.7 48.2,111.1 48.8,115.0 49.4,113.6 50.0,113.8 50.6,114.4 51.2,116.1 51.8,117.3 52.4,124.3 53.0,122.8 53.6,127.1 54.2,129.5 54.8,133.3 55.4,134.8 56.0,133.3 56.6,133.5 57.2,133.4 57.8,131.6 58.4,132.0 59.0,133.8 59.6,131.9 60.2,133.3 60.8,131.9 61.4,131.0 62.0,130.3 62.6,130.7 63.2,130.7 63.8,130.8 64.4,130.6 65.0,130.7 65.6,130.3 66.2,128.9 66.8,129.3 67.4,130.9 68.0,128.2 68.6,129.8 69.2,128.9 69.8,129.3 70.4,128.1 71.0,128.1 71.6,128.3 72.2,129.1 72.8,127.4 73.4,126.6 74.0,126.3 74.6,128.3 75.2,126.7 75.8,126.0 76.4,127.0 77.0,127.5 77.6,126.7 78.2,125.4 78.8,125.8 79.4,125.3 80.0,124.5 80.6,126.7 81.2,125.3 81.8,124.2 82.4,126.0 83.0,126.0 83.6,125.3 84.2,123.4 84.8,123.0 85.4,123.6 86.0,123.5 86.6,124.1 87.2,124.1 87.8,123.6 88.4,121.8 89.0,122.2 89.6,120.7 90.2,121.5 90.8,120.0 91.4,119.8 92.0,119.6 92.6,119.7 93.2,119.3 93.8,120.0 94.4,117.6 95.0,117.3 95.6,118.5 96.2,118.1 96.8,117.9 97.4,117.4 98.0,116.2 98.6,114.7 99.2,114.6 99.8,110.3 100.4,109.5 101.0,110.7 101.6,106.6 102.2,107.0 102.8,104.8 103.4,104.6 104.0,105.2 104.6,103.5 105.2,101.7 105.8,100.2 106.4,101.4 107.0,100.0 107.6,98.3 108.2,99.1 108.8,98.4 109.4,98.7 110.0,93.7 110.6,92.8 111.2,87.6 111.8,84.2 112.4,80.6 113.0,69.8 113.6,67.5 114.2,63.4 114.8,54.5 115.4,55.2 116.0,51.2 116.6,49.7 117.2,42.6 117.8,41.6 118.4,42.4 119.0,38.9 119.6,39.6 120.2,36.9 120.8,35.6 121.4,34.3 122.0,34.4 122.6,37.0 123.2,37.1 123.8,42.1 124.4,44.5 125.0,41.6 125.6,37.7 126.2,34.1 126.8,37.9 127.4,29.8 128.0,29.5 128.6,31.3 129.2,32.9 129.8,35.9 130.4,42.5 131.0,40.6 131.6,49.5 132.2,50.0 132.8,50.2 133.4,51.5 134.0,55.1 134.6,56.4 135.2,56.3 135.8,57.8 136.4,59.9 137.0,63.4 137.6,62.9 138.2,65.6 138.8,66.0 139.4,66.9 140.0,67.9 140.6,70.1 141.2,70.5 141.8,73.1 142.4,71.9 143.0,74.1 143.6,78.4 144.2,77.5 144.8,81.3 145.4,83.2 146.0,82.9 146.6,81.9 147.2,86.3 147.8,87.2 148.4,86.8 149.0,90.8 149.6,90.3 150.2,89.7 150.8,90.9 151.4,92.3 152.0,94.6 152.6,96.1 153.2,94.2 153.8,94.8 154.4,97.8 155.0,97.8 155.6,98.8 156.2,101.0 156.8,102.2 157.4,103.4 158.0,103.7 158.6,101.5 159.2,103.1 159.8,106.0 160.4,108.5 161.0,105.9 161.6,108.7 162.2,109.2 162.8,110.2 163.4,110.7 164.0,111.7 164.6,112.4 165.2,112.7 165.8,115.2 166.4,115.6 167.0,117.4 167.6,117.9 168.2,119.9 168.8,118.4 169.4,121.2 170.0,120.1 170.6,121.9 171.2,123.1 171.8,122.2 172.4,122.7 173.0,123.6 173.6,122.4 174.2,124.1 174.8,123.1 175.4,123.9 176.0,125.4 176.6,126.8 177.2,127.3 177.8,125.5 178.4,125.5 179.0,127.0 179.6,127.1 180.2,127.3 180.8,128.8 181.4,128.7 182.0,128.5 182.6,128.8 183.2,128.9 183.8,129.3 184.4,130.1 185.0,130.3 185.6,130.6 186.2,130.4 186.8,128.7 187.4,129.7 188.0,130.7 188.6,129.7 189.2,130.6 189.8,129.4 190.4,129.8 191.0,130.2 191.6,129.4 192.2,130.2 192.8,129.7 193.4,131.1 194.0,129.8 194.6,130.5 195.2,128.7 195.8,129.2 196.4,128.9 197.0,129.6 197.6,130.6 198.2,129.6 198.8,129.8 199.4,130.7 200.0,130.4 200.6,130.0 201.2,130.7 201.8,130.9 202.4,129.6 203.0,130.1 203.6,130.3 204.2,131.6 204.8,129.7 205.4,130.5 206.0,130.2 206.6,131.4 207.2,131.7 207.8,130.0 208.4,131.9 209.0,131.5 209.6,130.5 210.2,132.1 210.8,130.7 211.4,131.9 212.0,130.3 212.6,131.2 213.2,131.4 213.8,132.3 214.4,132.2 215.0,131.6 215.6,130.5 216.2,131.4 216.8,131.3 217.4,132.8 218.0,132.1 218.6,131.5 219.2,131.5 219.8,132.5 220.4,130.9 221.0,132.7 221.6,132.4 222.2,131.9 222.8,132.5 223.4,131.9 224.0,131.3 224.6,132.0 225.2,131.2 225.8,131.3 226.4,132.2 227.0,133.1 227.6,131.7 228.2,132.4 228.8,133.6 229.4,133.3 230.0,133.5 230.6,133.0 231.2,132.9 231.8,132.9 232.4,133.0 233.0,132.7 233.6,132.5 234.2,132.3 234.8,131.9 235.4,132.7 236.0,133.6 236.6,133.2 237.2,132.3 237.8,133.9 238.4,132.1 239.0,134.2 239.6,133.6 240.2,133.4 240.8,133.1 241.4,134.1 242.0,132.3 242.6,132.3 243.2,133.6 243.8,133.1 244.4,133.4 245.0,133.7 245.6,132.6 246.2,134.9 246.8,134.2 247.4,132.9 248.0,134.4 248.6,134.0 249.2,134.4 249.8,134.6 250.4,135.2 251.0,133.2 251.6,135.3 252.2,134.2 252.8,133.6 253.4,134.0 254.0,134.0 254.6,135.3 255.2,134.5 255.8,133.5 256.4,135.0 257.0,134.6 257.6,135.4 258.2,133.6 258.8,135.6 259.4,135.7 260.0,133.7 260.6,134.8 261.2,134.0 261.8,135.0 262.4,134.1 263.0,136.0 263.6,134.4 264.2,135.5 264.8,135.6 265.4,134.8 266.0,134.6 266.6,136.3 267.2,134.3 267.8,134.9 268.4,135.1 269.0,135.7 269.6,135.3 270.2,134.7 270.8,135.8 271.4,136.2 272.0,136.3 272.6,135.8 273.2,135.4 273.8,134.8 274.4,136.0 275.0,136.3 275.6,135.9 276.2,137.2 276.8,135.5 277.4,136.9 278.0,136.8 278.6,137.2 279.2,137.3 279.8,135.5 280.4,137.1 281.0,135.7 281.6,136.3 282.2,136.9 282.8,135.9 283.4,135.8 284.0,134.4 284.6,135.6 285.2,134.7 285.8,134.9 286.4,134.8 287.0,136.2 287.6,135.2 288.2,135.4 288.8,133.9 289.4,134.1 290.0,135.4 290.6,133.5 291.2,135.4 291.8,134.1 292.4,133.9 293.0,134.1 293.6,133.8 294.2,133.8 294.8,133.6 295.4,134.2 296.0,132.5 296.6,131.8 297.2,132.1 297.8,130.7 298.4,131.3 299.0,131.0 299.6,131.5 300.2,129.0 300.8,129.4 301.4,129.9 302.0,129.0 302.6,131.6 303.2,131.9 303.8,130.3 304.4,131.4 305.0,132.2 305.6,131.5 306.2,131.8 306.8,132.5 307.4,131.6 308.0,131.2 308.6,131.8 309.2,130.7 309.8,129.6 310.4,130.0 311.0,130.7 311.6,131.4 312.2,130.2 312.8,129.1 313.4,130.8 314.0,128.9 314.6,128.2 315.2,128.8 315.8,128.0 316.4,127.1 317.0,128.5 L317.0,154.1 316.4,151.7 315.8,154.2 315.2,151.6 314.6,154.2 314.0,154.0 313.4,153.9 312.8,152.5 312.2,154.3 311.6,151.4 311.0,153.9 310.4,151.5 309.8,151.8 309.2,152.9 308.6,151.0 308.0,150.7 307.4,150.8 306.8,152.5 306.2,153.0 305.6,150.7 305.0,153.6 304.4,152.1 303.8,151.3 303.2,152.1 302.6,152.9 302.0,149.7 301.4,152.3 300.8,152.0 300.2,151.0 299.6,152.4 299.0,150.8 298.4,150.8 297.8,152.1 297.2,149.8 296.6,150.3 296.0,151.8 295.4,151.2 294.8,151.2 294.2,149.3 293.6,150.0 293.0,151.5 292.4,151.2 291.8,149.2 291.2,150.9 290.6,149.7 290.0,149.7 289.4,148.7 288.8,150.3 288.2,149.3 287.6,149.4 287.0,147.9 286.4,151.0 285.8,151.1 285.2,148.4 284.6,147.9 284.0,149.3 283.4,149.6 282.8,150.2 282.2,149.4 281.6,148.3 281.0,150.1 280.4,147.4 279.8,147.7 279.2,149.1 278.6,147.9 278.0,148.9 277.4,150.1 276.8,148.0 276.2,149.1 275.6,146.8 275.0,146.8 274.4,149.7 273.8,149.2 273.2,147.3 272.6,146.8 272.0,146.5 271.4,148.7 270.8,148.1 270.2,146.8 269.6,147.6 269.0,147.2 268.4,146.9 267.8,146.8 267.2,146.8 266.6,147.4 266.0,147.6 265.4,145.8 264.8,148.0 264.2,147.5 263.6,146.2 263.0,145.5 262.4,145.7 261.8,145.4 261.2,148.5 260.6,145.7 260.0,145.9 259.4,146.5 258.8,146.1 258.2,147.9 257.6,147.9 257.0,147.2 256.4,145.3 255.8,147.6 255.2,147.2 254.6,144.9 254.0,145.5 253.4,145.6 252.8,147.7 252.2,144.3 251.6,144.3 251.0,144.3 250.4,146.9 249.8,145.0 249.2,145.5 248.6,146.3 248.0,144.3 247.4,146.5 246.8,144.1 246.2,145.3 245.6,145.3 245.0,147.0 244.4,146.8 243.8,145.4 243.2,145.4 242.6,145.9 242.0,144.3 241.4,144.6 240.8,145.8 240.2,147.2 239.6,147.3 239.0,145.3 238.4,144.3 237.8,145.1 237.2,146.3 236.6,145.9 236.0,144.4 235.4,144.4 234.8,145.0 234.2,145.1 233.6,145.2 233.0,144.9 232.4,146.7 231.8,145.1 231.2,146.8 230.6,146.2 230.0,145.7 229.4,146.0 228.8,146.5 228.2,145.7 227.6,145.2 227.0,145.9 226.4,148.0 225.8,147.8 225.2,146.1 224.6,147.0 224.0,145.6 223.4,145.5 222.8,146.3 222.2,146.5 221.6,147.6 221.0,146.3 220.4,148.0 219.8,146.2 219.2,148.3 218.6,147.0 218.0,148.8 217.4,145.8 216.8,146.5 216.2,147.1 215.6,146.1 215.0,146.5 214.4,146.0 213.8,148.0 213.2,147.2 212.6,148.2 212.0,149.0 211.4,148.7 210.8,146.7 210.2,147.0 209.6,149.0 209.0,148.5 208.4,147.5 207.8,147.8 207.2,144.0 206.6,147.7 206.0,160.7 205.4,150.4 204.8,145.1 204.2,148.6 203.6,147.3 203.0,149.4 202.4,146.9 201.8,149.1 201.2,148.4 200.6,149.0 200.0,148.5 199.4,147.1 198.8,147.9 198.2,149.2 197.6,148.1 197.0,149.1 196.4,148.7 195.8,147.6 195.2,146.4 194.6,148.7 194.0,148.0 193.4,149.0 192.8,146.5 192.2,147.8 191.6,146.0 191.0,147.7 190.4,148.1 189.8,146.0 189.2,147.5 188.6,147.7 188.0,148.6 187.4,147.0 186.8,146.4 186.2,148.0 185.6,147.0 185.0,146.3 184.4,148.0 183.8,147.2 183.2,148.2 182.6,147.8 182.0,146.7 181.4,146.6 180.8,149.1 180.2,146.8 179.6,147.9 179.0,148.6 178.4,147.1 177.8,148.3 177.2,148.2 176.6,146.3 176.0,146.4 175.4,147.8 174.8,147.8 174.2,148.0 173.6,148.5 173.0,147.9 172.4,149.5 171.8,149.5 171.2,146.1 170.6,148.4 170.0,145.6 169.4,145.4 168.8,146.5 168.2,145.7 167.6,144.7 167.0,145.9 166.4,143.7 165.8,143.0 165.2,145.8 164.6,142.7 164.0,144.9 163.4,143.6 162.8,144.4 162.2,143.5 161.6,142.6 161.0,142.3 160.4,141.0 159.8,143.3 159.2,142.6 158.6,140.6 158.0,138.7 157.4,139.2 156.8,137.5 156.2,139.8 155.6,137.5 155.0,137.8 154.4,137.5 153.8,138.4 153.2,137.9 152.6,134.0 152.0,137.5 151.4,133.8 150.8,133.1 150.2,132.1 149.6,132.1 149.0,132.4 148.4,129.4 147.8,130.1 147.2,131.6 146.6,131.3 146.0,129.5 145.4,129.8 144.8,129.5 144.2,125.6 143.6,124.7 143.0,125.7 142.4,121.9 141.8,120.1 141.2,120.6 140.6,120.8 140.0,119.0 139.4,120.9 138.8,115.1 138.2,114.3 137.6,116.8 137.0,111.4 136.4,110.0 135.8,114.2 135.2,111.0 134.6,112.7 134.0,109.6 133.4,110.6 132.8,108.6 132.2,108.2 131.6,107.8 131.0,108.1 130.4,107.5 129.8,109.8 129.2,109.6 128.6,109.4 128.0,108.0 127.4,108.1 126.8,107.4 126.2,108.7 125.6,107.6 125.0,107.5 124.4,109.4 123.8,109.3 123.2,109.6 122.6,108.6 122.0,108.3 121.4,108.1 120.8,110.3 120.2,113.7 119.6,113.3 119.0,111.1 118.4,116.1 117.8,116.5 117.2,118.3 116.6,118.7 116.0,120.4 115.4,118.2 114.8,119.7 114.2,121.0 113.6,123.3 113.0,123.6 112.4,124.7 111.8,125.4 111.2,123.1 110.6,124.3 110.0,128.0 109.4,129.0 108.8,126.4 108.2,127.6 107.6,127.6 107.0,132.4 106.4,130.2 105.8,134.4 105.2,135.7 104.6,133.2 104.0,137.9 103.4,139.1 102.8,136.1 102.2,140.2 101.6,141.4 101.0,140.1 100.4,143.2 99.8,145.2 99.2,142.5 98.6,146.9 98.0,147.8 97.4,146.5 96.8,148.7 96.2,148.3 95.6,148.7 95.0,147.9 94.4,150.2 93.8,148.5 93.2,152.0 92.6,150.9 92.0,150.4 91.4,152.9 90.8,153.5 90.2,152.2 89.6,154.0 89.0,154.3 88.4,152.3 87.8,152.2 87.2,153.1 86.6,154.5 86.0,153.4 85.4,152.1 84.8,154.5 84.2,155.1 83.6,152.2 83.0,153.6 82.4,152.7 81.8,152.1 81.2,154.5 80.6,153.4 80.0,154.3 79.4,155.3 78.8,153.7 78.2,153.4 77.6,155.2 77.0,154.4 76.4,152.7 75.8,154.7 75.2,154.8 74.6,153.8 74.0,155.8 73.4,154.8 72.8,154.1 72.2,154.4 71.6,153.6 71.0,154.6 70.4,153.8 69.8,153.9 69.2,155.0 68.6,153.3 68.0,156.0 67.4,156.3 66.8,156.5 66.2,153.4 65.6,156.0 65.0,156.6 64.4,155.7 63.8,153.7 63.2,154.7 62.6,156.2 62.0,155.4 61.4,154.3 60.8,154.6 60.2,154.7 59.6,156.6 59.0,155.0 58.4,156.4 57.8,154.3 57.2,156.3 56.6,156.0 56.0,154.9 55.4,156.3 54.8,156.7 54.2,159.4 53.6,156.6 53.0,161.5 52.4,161.3 51.8,160.5 51.2,162.2 50.6,164.3 50.0,162.1 49.4,161.4 48.8,169.0 48.2,167.7 47.6,165.6Z" fill="#ff0000" stroke="#ff0000" stroke-width="0.6" stroke-linejoin="round"/>
<polyline points="48.0,110.7 48.0,170.3" fill="none" stroke="#ff0000" stroke-width="1.5" stroke-linejoin="round" stroke-linecap="round"/>
<polyline points="52.2,115.9 52.2,161.6" fill="none" stroke="#ff0000" stroke-width="1.5" stroke-linejoin="round" stroke-linecap="round"/>
<polyline points="205.9,140.0 205.9,160.6" fill="none" stroke="#ff0000" stroke-width="1.4" stroke-linejoin="round" stroke-linecap="round"/>
<path d="M118.6,107.4l-0.5,3.5M126.1,98.9l-0.8,3.9M117.7,58.2l-0.8,4.8M114.4,93.9l-0.9,5.6M114.2,73.9l-1.1,6.7M114.4,85.8l-0.8,4.2M118.5,95.0l-0.6,3.6M118.6,63.2l-1.0,4.7M115.2,82.5l-0.6,4.0M125.8,69.3l-0.8,4.1M125.6,92.5l-0.8,3.5M117.7,96.7l-0.5,3.3M117.2,87.2l-0.7,2.9M126.3,68.1l-1.3,5.1M123.2,82.6l-1.4,6.8M123.8,61.0l-0.4,3.1" fill="none" stroke="#008000" stroke-width="1.0" stroke-linecap="round"/>
<path d="M157.8,114.1l1.4,8.0M132.0,70.4l0.9,5.0M130.9,88.7l1.0,6.1M137.9,89.3l1.0,4.2M141.1,88.0l1.4,7.3M152.5,118.0l1.3,7.1M134.3,101.7l1.2,5.0M147.9,123.4l0.8,4.3M145.9,113.2l1.7,6.2M140.4,112.7l0.9,4.0M137.0,99.5l0.9,3.3M146.2,109.6l1.4,4.6M146.5,116.2l1.8,6.8M143.6,106.8l1.0,3.5M158.8,108.7l0.8,3.3M154.5,115.5l0.6,2.9M160.0,109.9l1.2,4.5M137.6,70.9l1.0,4.8M132.3,81.2l0.8,3.9M149.4,108.6l1.2,7.5M158.7,112.7l0.8,3.6M147.8,104.3l1.1,4.4M142.6,93.2l0.8,4.1M137.3,86.0l1.2,5.8M150.7,112.0l1.4,7.0M158.0,121.1l0.7,3.1" fill="none" stroke="#008000" stroke-width="1.0" stroke-linecap="round"/>
<path d="M115.5,110.1l-1.9,5.5M124.7,99.7l-0.9,2.9M109.6,122.3l-1.0,4.4M110.2,116.0l-0.8,3.5M116.2,108.1l-1.5,5.4M110.1,122.7l-0.6,2.7M126.0,100.5l-1.1,3.7M109.7,118.0l-0.5,2.7M113.6,110.9l-0.8,3.2M113.9,112.0l-1.1,3.7M108.8,118.0l-2.0,6.0M108.1,117.1l-0.9,2.7M115.8,110.0l-1.0,5.5M114.9,110.3l-1.1,3.7" fill="none" stroke="#0000ff" stroke-width="1.1" stroke-linecap="round"/>
<path d="M151.7,96.5l1.0,4.8M164.0,118.1l0.6,2.8M159.6,106.7l0.7,2.6M161.5,114.2l0.9,3.3M153.2,95.7l1.2,5.0M155.3,102.5l0.7,2.8M158.7,110.1l0.7,4.1M154.8,100.7l0.8,3.8" fill="none" stroke="#0000ff" stroke-width="1.0" stroke-linecap="round"/>
</g>
<g clip-path="url(#cb)">
<path d="M402.6,123.4 403.2,123.6 403.8,123.9 404.4,123.9 405.0,123.8 405.6,123.2 406.2,123.9 406.8,124.1 407.4,123.8 408.0,125.9 408.6,125.2 409.2,126.4 409.8,126.8 410.4,127.5 411.0,127.5 411.6,128.3 412.2,127.2 412.8,127.5 413.4,128.1 414.0,128.7 414.6,128.5 415.2,128.1 415.8,128.2 416.4,128.7 417.0,128.5 417.6,128.9 418.2,128.5 418.8,129.0 419.4,128.9 420.0,128.6 420.6,128.4 421.2,128.2 421.8,128.3 422.4,128.4 423.0,128.4 423.6,128.2 424.2,128.5 424.8,128.1 425.4,129.0 426.0,128.6 426.6,128.1 427.2,128.4 427.8,128.3 428.4,128.1 429.0,128.6 429.6,127.8 430.2,127.5 430.8,128.0 431.4,127.3 432.0,127.4 432.6,126.8 433.2,126.5 433.8,125.9 434.4,125.8 435.0,125.6 435.6,125.0 436.2,125.5 436.8,124.3 437.4,123.9 438.0,123.8 438.6,124.2 439.2,124.0 439.8,123.3 440.4,122.5 441.0,122.5 441.6,122.4 442.2,120.9 442.8,121.1 443.4,120.7 444.0,119.7 444.6,118.8 445.2,119.1 445.8,117.9 446.4,117.7 447.0,117.5 447.6,117.8 448.2,115.9 448.8,115.3 449.4,115.6 450.0,115.8 450.6,113.8 451.2,114.3 451.8,112.0 452.4,110.9 453.0,108.8 453.6,109.2 454.2,107.6 454.8,107.0 455.4,104.7 456.0,102.9 456.6,101.8 457.2,100.5 457.8,97.9 458.4,95.9 459.0,94.9 459.6,92.3 460.2,91.5 460.8,87.9 461.4,85.7 462.0,83.9 462.6,81.9 463.2,79.1 463.8,75.6 464.4,75.1 465.0,71.9 465.6,71.8 466.2,68.1 466.8,68.0 467.4,63.2 468.0,63.0 468.6,55.2 469.2,54.2 469.8,50.8 470.4,45.8 471.0,44.2 471.6,40.2 472.2,38.1 472.8,35.3 473.4,30.1 474.0,27.7 474.6,27.9 475.2,30.3 475.8,30.3 476.4,31.5 477.0,28.3 477.6,25.3 478.2,23.3 478.8,27.6 479.4,29.2 480.0,30.0 480.6,26.9 481.2,24.8 481.8,23.7 482.4,17.3 483.0,16.6 483.6,22.0 484.2,21.3 484.8,22.2 485.4,24.7 486.0,27.5 486.6,27.8 487.2,30.7 487.8,31.4 488.4,33.1 489.0,32.9 489.6,32.9 490.2,32.2 490.8,29.9 491.4,30.8 492.0,28.0 492.6,27.1 493.2,28.9 493.8,31.2 494.4,33.3 495.0,33.4 495.6,35.8 496.2,36.6 496.8,38.0 497.4,38.6 498.0,66.1 498.6,68.5 499.2,69.8 499.8,68.7 500.4,70.2 501.0,70.2 501.6,69.8 502.2,70.1 502.8,72.0 503.4,71.2 504.0,71.3 504.6,72.3 505.2,72.6 505.8,73.2 506.4,72.8 507.0,72.8 507.6,73.0 508.2,73.0 508.8,73.8 509.4,74.3 510.0,73.2 510.6,73.8 511.2,73.8 511.8,73.6 512.4,74.4 513.0,75.2 513.6,74.4 514.2,75.4 514.8,76.0 515.4,75.3 516.0,76.6 516.6,76.8 517.2,77.6 517.8,78.1 518.4,80.0 519.0,82.5 519.6,89.1 520.2,90.4 520.8,90.0 521.4,92.4 522.0,92.5 522.6,94.6 523.2,95.1 523.8,96.8 524.4,97.1 525.0,96.5 525.6,97.9 526.2,99.0 526.8,100.4 527.4,100.1 528.0,100.5 528.6,101.4 529.2,102.1 529.8,104.0 530.4,106.8 531.0,108.6 531.6,111.6 532.2,114.9 532.8,116.8 533.4,116.1 534.0,119.2 534.6,121.2 535.2,121.0 535.8,121.8 536.4,121.6 537.0,122.0 537.6,122.2 538.2,123.2 538.8,122.6 539.4,123.3 540.0,123.5 540.6,123.3 541.2,124.1 541.8,123.4 542.4,123.5 543.0,124.1 543.6,123.9 544.2,124.3 544.8,123.6 545.4,123.6 546.0,124.4 546.6,124.0 547.2,124.6 547.8,123.8 548.4,123.8 549.0,124.6 549.6,124.0 550.2,123.7 550.8,123.9 551.4,124.6 552.0,124.0 552.6,124.3 553.2,124.7 553.8,124.4 554.4,124.6 555.0,124.9 555.6,124.1 556.2,124.8 556.8,124.4 557.4,124.0 558.0,124.0 558.6,124.3 559.2,124.1 559.8,125.0 560.4,124.8 561.0,124.2 561.6,125.4 562.2,125.0 562.8,124.9 563.4,124.6 564.0,125.1 564.6,125.7 565.2,125.4 565.8,125.3 566.4,125.7 567.0,125.7 567.6,126.0 568.2,125.5 568.8,125.6 569.4,125.6 570.0,126.8 570.6,125.8 571.2,126.3 571.8,126.9 572.4,126.9 573.0,127.6 573.6,126.8 574.2,126.8 574.8,127.0 575.4,127.6 576.0,127.5 576.6,127.8 577.2,128.3 577.8,127.9 578.4,128.5 579.0,127.8 579.6,128.6 580.2,129.2 580.8,129.4 581.4,129.0 582.0,129.7 582.6,128.8 583.2,129.0 583.8,129.3 584.4,129.5 585.0,130.1 585.6,129.7 586.2,129.3 586.8,130.3 587.4,129.7 588.0,130.8 588.6,130.0 589.2,130.2 589.8,130.1 590.4,130.5 591.0,131.0 591.6,130.6 592.2,130.5 592.8,131.3 593.4,131.6 594.0,130.9 594.6,131.5 595.2,131.1 595.8,131.1 596.4,131.8 597.0,131.8 597.6,132.7 598.2,131.6 598.8,132.6 599.4,132.9 600.0,132.5 600.6,132.8 601.2,132.5 601.8,132.5 602.4,132.3 603.0,133.4 603.6,132.3 604.2,132.5 604.8,133.3 605.4,133.0 606.0,133.1 606.6,132.8 607.2,132.7 607.8,133.5 608.4,132.7 609.0,132.9 609.6,133.5 610.2,133.0 610.8,133.9 611.4,132.9 612.0,133.4 612.6,133.4 613.2,133.4 613.8,133.8 614.4,132.9 615.0,133.6 615.6,133.9 616.2,133.0 616.8,133.6 617.4,133.5 618.0,133.5 618.6,133.7 619.2,133.9 619.8,134.0 620.4,134.3 621.0,134.0 621.6,134.5 622.2,134.1 622.8,133.6 623.4,133.3 624.0,133.1 624.6,133.2 625.2,132.9 625.8,133.6 626.4,133.5 627.0,133.3 627.6,132.9 628.2,132.9 628.8,132.5 629.4,133.3 630.0,131.9 630.6,132.2 631.2,132.5 631.8,131.8 632.4,132.6 633.0,132.0 633.6,131.7 634.2,131.2 634.8,131.4 635.4,131.7 636.0,131.2 636.6,130.7 637.2,131.4 637.8,130.9 638.4,131.5 639.0,131.2 639.6,131.1 640.2,131.2 640.8,131.0 641.4,130.3 642.0,130.5 642.6,129.9 643.2,129.8 643.8,129.7 644.4,129.4 645.0,129.5 645.6,129.5 646.2,130.0 646.8,129.5 647.4,129.2 648.0,129.6 648.6,129.3 649.2,129.9 649.8,129.3 650.4,129.7 651.0,129.2 651.6,129.5 652.2,130.0 652.8,129.2 653.4,129.5 654.0,129.4 654.6,128.8 655.2,127.2 655.8,127.1 656.4,122.4 657.0,128.2 657.6,129.6 658.2,129.8 658.8,129.0 659.4,129.4 660.0,129.4 660.6,129.7 661.2,128.8 661.8,129.2 662.4,129.3 663.0,129.5 663.6,128.9 664.2,129.4 664.8,129.6 665.4,129.7 666.0,129.0 666.6,129.2 667.2,128.8 667.8,128.8 668.4,128.6 669.0,129.3 669.6,127.7 670.2,129.6 670.8,122.7 671.4,123.2 672.0,125.9 L672.0,167.4 671.4,166.4 670.8,164.8 670.2,164.9 669.6,166.5 669.0,165.5 668.4,166.2 667.8,163.4 667.2,164.0 666.6,163.7 666.0,164.2 665.4,164.7 664.8,163.7 664.2,165.0 663.6,165.5 663.0,164.4 662.4,162.8 661.8,162.8 661.2,164.2 660.6,164.9 660.0,165.2 659.4,164.3 658.8,164.8 658.2,165.2 657.6,164.6 657.0,164.3 656.4,164.3 655.8,165.0 655.2,164.8 654.6,163.9 654.0,162.3 653.4,162.0 652.8,164.1 652.2,163.3 651.6,161.4 651.0,161.4 650.4,161.9 649.8,161.6 649.2,162.5 648.6,162.6 648.0,160.3 647.4,160.5 646.8,160.2 646.2,160.7 645.6,160.0 645.0,161.2 644.4,159.9 643.8,161.7 643.2,161.6 642.6,162.2 642.0,159.3 641.4,161.6 640.8,160.8 640.2,158.7 639.6,159.0 639.0,159.1 638.4,159.3 637.8,161.0 637.2,159.0 636.6,160.3 636.0,157.6 635.4,157.7 634.8,160.6 634.2,157.7 633.6,157.9 633.0,157.6 632.4,159.2 631.8,157.1 631.2,157.9 630.6,159.1 630.0,157.0 629.4,156.6 628.8,158.2 628.2,158.6 627.6,157.8 627.0,157.9 626.4,158.1 625.8,156.1 625.2,155.7 624.6,156.5 624.0,157.7 623.4,155.7 622.8,156.8 622.2,154.9 621.6,156.7 621.0,155.3 620.4,157.4 619.8,157.2 619.2,153.9 618.6,154.0 618.0,153.3 617.4,154.4 616.8,153.3 616.2,153.4 615.6,154.0 615.0,153.1 614.4,154.0 613.8,153.0 613.2,153.7 612.6,153.5 612.0,151.3 611.4,152.6 610.8,151.5 610.2,152.0 609.6,152.5 609.0,151.4 608.4,152.9 607.8,151.5 607.2,150.7 606.6,152.4 606.0,151.0 605.4,153.6 604.8,152.5 604.2,150.5 603.6,150.7 603.0,151.8 602.4,152.1 601.8,150.9 601.2,151.2 600.6,152.0 600.0,150.9 599.4,151.5 598.8,150.5 598.2,152.1 597.6,151.1 597.0,153.2 596.4,153.5 595.8,152.7 595.2,150.5 594.6,152.4 594.0,150.7 593.4,151.8 592.8,152.4 592.2,150.8 591.6,152.9 591.0,153.0 590.4,153.5 589.8,151.8 589.2,151.4 588.6,153.7 588.0,152.2 587.4,153.3 586.8,152.9 586.2,153.9 585.6,151.9 585.0,152.1 584.4,152.8 583.8,154.3 583.2,154.7 582.6,152.5 582.0,154.5 581.4,153.3 580.8,155.0 580.2,155.5 579.6,152.8 579.0,156.0 578.4,154.1 577.8,154.6 577.2,156.5 576.6,155.0 576.0,156.2 575.4,153.9 574.8,157.1 574.2,156.3 573.6,156.6 573.0,157.4 572.4,157.1 571.8,156.7 571.2,155.8 570.6,155.4 570.0,157.2 569.4,156.6 568.8,157.1 568.2,157.2 567.6,156.1 567.0,160.0 566.4,158.7 565.8,160.4 565.2,161.0 564.6,160.4 564.0,157.9 563.4,160.8 562.8,159.1 562.2,160.6 561.6,158.5 561.0,158.9 560.4,161.5 559.8,159.8 559.2,160.9 558.6,161.4 558.0,158.9 557.4,160.2 556.8,159.9 556.2,161.3 555.6,160.0 555.0,160.2 554.4,161.9 553.8,161.8 553.2,161.1 552.6,163.0 552.0,163.3 551.4,160.2 550.8,163.2 550.2,163.7 549.6,160.6 549.0,161.8 548.4,159.9 547.8,161.8 547.2,161.7 546.6,161.7 546.0,161.0 545.4,160.8 544.8,161.2 544.2,160.5 543.6,160.3 543.0,157.8 542.4,158.6 541.8,157.8 541.2,160.5 540.6,159.2 540.0,158.5 539.4,159.0 538.8,157.9 538.2,159.2 537.6,157.8 537.0,157.6 536.4,156.2 535.8,158.3 535.2,158.0 534.6,155.7 534.0,157.4 533.4,158.0 532.8,156.2 532.2,158.0 531.6,157.1 531.0,156.8 530.4,156.1 529.8,155.6 529.2,157.0 528.6,153.8 528.0,154.5 527.4,155.9 526.8,153.7 526.2,153.2 525.6,156.0 525.0,153.8 524.4,155.5 523.8,155.7 523.2,155.3 522.6,155.4 522.0,154.1 521.4,154.3 520.8,153.2 520.2,154.6 519.6,151.2 519.0,151.1 518.4,153.3 517.8,152.7 517.2,152.4 516.6,153.2 516.0,152.8 515.4,151.5 514.8,152.1 514.2,152.9 513.6,152.3 513.0,150.0 512.4,149.9 511.8,149.4 511.2,148.5 510.6,148.5 510.0,150.4 509.4,150.1 508.8,146.7 508.2,148.3 507.6,145.5 507.0,148.3 506.4,146.3 505.8,143.2 505.2,143.6 504.6,142.9 504.0,145.0 503.4,144.7 502.8,139.2 502.2,141.9 501.6,139.9 501.0,139.5 500.4,137.4 499.8,136.1 499.2,131.6 498.6,130.5 498.0,129.4 497.4,129.2 496.8,129.9 496.2,126.7 495.6,128.5 495.0,123.1 494.4,125.2 493.8,123.7 493.2,124.7 492.6,119.5 492.0,121.0 491.4,121.8 490.8,122.7 490.2,122.5 489.6,120.8 489.0,121.5 488.4,125.2 487.8,123.3 487.2,123.5 486.6,124.6 486.0,130.6 485.4,131.0 484.8,131.5 484.2,134.5 483.6,136.9 483.0,133.4 482.4,133.9 481.8,135.7 481.2,136.3 480.6,142.7 480.0,139.4 479.4,144.4 478.8,145.1 478.2,144.5 477.6,145.1 477.0,146.7 476.4,146.0 475.8,147.7 475.2,150.6 474.6,149.3 474.0,151.2 473.4,149.1 472.8,149.1 472.2,149.1 471.6,150.9 471.0,151.6 470.4,148.6 469.8,149.4 469.2,151.0 468.6,149.5 468.0,150.1 467.4,149.1 466.8,151.1 466.2,150.5 465.6,151.0 465.0,148.6 464.4,149.9 463.8,148.3 463.2,150.0 462.6,148.7 462.0,150.2 461.4,152.2 460.8,151.9 460.2,149.5 459.6,152.6 459.0,150.3 458.4,152.5 457.8,153.2 457.2,151.0 456.6,156.1 456.0,155.1 455.4,155.1 454.8,155.3 454.2,157.3 453.6,159.4 453.0,161.3 452.4,160.3 451.8,160.3 451.2,162.2 450.6,163.9 450.0,164.5 449.4,167.4 448.8,168.3 448.2,167.8 447.6,170.6 447.0,167.4 446.4,168.0 445.8,169.0 445.2,166.2 444.6,166.7 444.0,167.2 443.4,164.6 442.8,167.0 442.2,163.6 441.6,164.5 441.0,161.7 440.4,164.5 439.8,162.8 439.2,162.7 438.6,160.0 438.0,161.9 437.4,159.5 436.8,160.3 436.2,161.5 435.6,161.6 435.0,162.7 434.4,162.3 433.8,162.6 433.2,160.1 432.6,163.2 432.0,161.3 431.4,162.8 430.8,163.4 430.2,163.3 429.6,162.7 429.0,162.9 428.4,163.5 427.8,162.3 427.2,160.5 426.6,161.3 426.0,161.4 425.4,159.8 424.8,162.5 424.2,161.4 423.6,161.3 423.0,161.4 422.4,158.1 421.8,159.8 421.2,159.3 420.6,158.8 420.0,156.9 419.4,159.7 418.8,158.8 418.2,157.3 417.6,160.5 417.0,157.7 416.4,159.3 415.8,161.0 415.2,159.7 414.6,160.0 414.0,161.1 413.4,159.8 412.8,161.0 412.2,160.4 411.6,162.7 411.0,159.7 410.4,160.0 409.8,162.2 409.2,161.5 408.6,165.3 408.0,162.1 407.4,166.1 406.8,163.0 406.2,164.9 405.6,168.3 405.0,167.3 404.4,165.6 403.8,166.3 403.2,166.4 402.6,168.7Z" fill="#0000ff" stroke="#0000ff" stroke-width="0.6" stroke-linejoin="round"/>
<polyline points="452.0,111.9 452.6,110.1 453.2,108.8 453.8,107.8 454.4,107.5 455.0,105.1 455.6,104.5 456.2,102.5 456.8,101.3 457.4,98.9 458.0,96.8 458.6,95.6 459.2,92.8 459.8,90.3 460.4,89.3 461.0,86.7 461.6,83.2 462.2,81.1 462.8,79.2 463.4,76.7 464.0,75.4 464.6,73.3 465.2,72.3 465.8,69.1 466.4,68.8 467.0,65.5 467.6,61.9 468.2,57.6 468.8,55.2 469.4,51.2 470.0,46.7 470.6,44.6 471.2,41.3 471.8,39.3 472.4,36.9 473.0,35.2 473.6,29.1 474.2,27.6 474.8,28.6 475.4,31.3 476.0,31.3 476.6,28.8 477.2,26.2 477.8,23.7 478.4,22.7 479.0,25.3 479.6,29.5 480.2,27.9 480.8,25.1 481.4,21.7 482.0,18.8 482.6,15.8 483.2,16.7 483.8,19.7 484.4,21.7 485.0,21.9 485.6,22.9 486.2,25.1 486.8,29.4 487.4,32.3 488.0,31.4 488.6,32.7 489.2,32.2 489.8,31.0 490.4,31.5 491.0,29.3 491.6,28.1 492.2,28.0 492.8,26.3 493.4,28.6 494.0,32.3 494.6,32.6 495.2,35.0 495.8,35.2 496.4,36.9 497.0,37.7 497.6,38.9 498.2,41.1 498.8,41.9 499.4,41.5 500.0,43.4 500.6,41.8 501.2,41.4 501.8,40.4 502.4,41.9 503.0,42.9 503.6,43.8 504.2,43.6 504.8,40.4 505.4,37.4 506.0,34.8 506.6,33.3 507.2,31.9 507.8,32.8 508.4,34.9 509.0,33.4 509.6,31.2 510.2,31.8 510.8,32.5 511.4,29.5 512.0,28.0 512.6,25.5 513.2,24.1 513.8,23.1 514.4,25.9 515.0,26.5 515.6,31.9 516.2,36.1 516.8,37.0 517.4,40.4 518.0,42.3 518.6,43.9 519.2,45.0 519.8,46.9 520.4,48.5 521.0,51.9 521.6,60.8 522.2,64.1 522.8,67.3 523.4,69.4 524.0,71.9 524.6,75.8 525.2,80.3 525.8,83.1 526.4,89.1 527.0,95.3 527.6,102.1 528.2,102.1 528.8,105.3 529.4,106.8 530.0,107.7 530.6,109.0 531.2,109.2 531.8,110.4 532.4,110.7 533.0,112.3 533.6,112.2 534.2,113.6 534.8,113.9 535.4,114.3 536.0,116.0 536.6,115.4 537.2,117.4 537.8,118.2 538.4,118.7 539.0,119.0 539.6,119.7" fill="none" stroke="#0000ff" stroke-width="1.5" stroke-linejoin="round" stroke-linecap="round"/>
<polyline points="452.0,112.7 452.6,111.3 453.2,110.1 453.8,108.0 454.4,107.1 455.0,104.8 455.6,103.4 456.2,102.2 456.8,101.5 457.4,98.6 458.0,97.4 458.6,93.7 459.2,91.7 459.8,90.6 460.4,87.5 461.0,84.7 461.6,83.3 462.2,80.1 462.8,79.7 463.4,76.6 464.0,75.8 464.6,73.2 465.2,72.1 465.8,69.1 466.4,68.3 467.0,63.6 467.6,60.1 468.2,56.6 468.8,52.6 469.4,49.5 470.0,46.6 470.6,42.8 471.2,39.7 471.8,39.1 472.4,36.6 473.0,31.7 473.6,27.9 474.2,30.7 474.8,31.5 475.4,33.8 476.0,29.8 476.6,28.1 477.2,26.0 477.8,23.6 478.4,27.3 479.0,29.0 479.6,29.3 480.2,26.9 480.8,24.4 481.4,20.0 482.0,17.5 482.6,16.7 483.2,20.3 483.8,22.8 484.4,23.6 485.0,24.3 485.6,25.6 486.2,29.8 486.8,32.1 487.4,33.4 488.0,33.5 488.6,34.5 489.2,33.0 489.8,32.0 490.4,30.7 491.0,29.7 491.6,29.6 492.2,27.5 492.8,29.6 493.4,31.8 494.0,34.8 494.6,35.7 495.2,36.9 495.8,38.3 496.4,38.5 497.0,40.6 497.6,40.6 498.2,42.5 498.8,42.8 499.4,44.3 500.0,43.2 500.6,42.8 501.2,42.8 501.8,43.4 502.4,43.3 503.0,43.9 503.6,44.1 504.2,42.5 504.8,40.3 505.4,36.4 506.0,34.7 506.6,32.1 507.2,34.6 507.8,34.9 508.4,33.4 509.0,32.5 509.6,33.3 510.2,33.8 510.8,30.8 511.4,29.0 512.0,27.2 512.6,26.0 513.2,25.0 513.8,25.3 514.4,27.5 515.0,32.4 515.6,36.3 516.2,38.7 516.8,41.5 517.4,43.7 518.0,45.3 518.6,46.5 519.2,47.8 519.8,49.2 520.4,51.0 521.0,61.5 521.6,64.9 522.2,68.2 522.8,71.2 523.4,72.6 524.0,75.5 524.6,79.4 525.2,84.2 525.8,90.2 526.4,96.3 527.0,102.1 527.6,103.3 528.2,106.2 528.8,108.0 529.4,109.4 530.0,109.4 530.6,110.3 531.2,111.4 531.8,112.7 532.4,112.2 533.0,113.3 533.6,113.3 534.2,113.9 534.8,115.1 535.4,116.8 536.0,117.3 536.6,117.7 537.2,118.3 537.8,118.7 538.4,120.4 539.0,120.6 539.6,120.4" fill="none" stroke="#0000ff" stroke-width="1.3" stroke-linejoin="round" stroke-linecap="round"/>
<polyline points="452.0,113.6 452.6,114.9 453.2,111.9 453.8,111.0 454.4,110.9 455.0,109.5 455.6,106.8 456.2,106.4 456.8,104.9 457.4,103.2 458.0,101.7 458.6,99.2 459.2,96.3 459.8,94.6 460.4,92.8 461.0,90.2 461.6,87.7 462.2,85.6 462.8,82.1 463.4,80.1 464.0,78.3 464.6,77.5 465.2,75.3 465.8,74.1 466.4,72.4 467.0,69.0 467.6,66.9 468.2,63.1 468.8,59.5 469.4,56.3 470.0,52.1 470.6,48.5 471.2,46.2 471.8,42.6 472.4,41.0 473.0,38.3 473.6,35.3 474.2,30.4 474.8,30.4 475.4,32.2 476.0,34.2 476.6,33.4 477.2,29.6 477.8,28.1 478.4,25.3 479.0,27.1 479.6,29.1 480.2,31.1 480.8,30.5 481.4,27.3 482.0,24.2 482.6,19.7 483.2,17.9 483.8,21.0 484.4,23.6 485.0,25.4 485.6,26.0 486.2,25.6 486.8,28.9 487.4,33.2 488.0,34.1 488.6,34.9 489.2,35.3 489.8,35.5 490.4,34.4 491.0,32.3 491.6,31.7 492.2,31.4 492.8,29.9 493.4,29.1 494.0,32.6 494.6,34.0 495.2,35.9 495.8,38.1 496.4,37.6 497.0,40.2 497.6,40.8 498.2,42.9 498.8,43.6 499.4,43.1 500.0,45.1 500.6,45.8 501.2,44.2 501.8,44.4 502.4,43.0 503.0,43.8 503.6,44.9 504.2,45.7 504.8,45.5 505.4,41.6 506.0,39.5 506.6,37.3 507.2,35.4 507.8,34.9 508.4,36.1 509.0,37.0 509.6,33.6 510.2,33.5 510.8,33.5 511.4,34.6 512.0,31.7 512.6,28.7 513.2,28.1 513.8,25.6 514.4,26.5 515.0,27.3 515.6,31.7 516.2,35.3 516.8,39.2 517.4,40.0 518.0,43.2 518.6,44.8 519.2,46.8 519.8,48.7 520.4,50.8 521.0,52.7 521.6,57.0 522.2,64.6 522.8,66.5 523.4,69.5 524.0,72.6 524.6,75.1 525.2,79.6 525.8,83.3 526.4,87.2 527.0,94.3 527.6,101.0 528.2,104.5 528.8,106.2 529.4,108.3 530.0,108.9 530.6,111.5 531.2,110.8 531.8,111.3 532.4,113.4 533.0,112.9 533.6,113.9 534.2,115.0 534.8,115.0 535.4,116.3 536.0,116.9 536.6,117.1 537.2,118.7 537.8,119.2 538.4,119.4 539.0,121.2 539.6,121.3" fill="none" stroke="#0000ff" stroke-width="1.2" stroke-linejoin="round" stroke-linecap="round"/>
<polyline points="403.0,93.0 403.0,95.5" fill="none" stroke="#0000ff" stroke-width="1.5" stroke-linejoin="round" stroke-linecap="round"/>
<polyline points="403.0,187.1 403.0,197.0" fill="none" stroke="#0000ff" stroke-width="1.5" stroke-linejoin="round" stroke-linecap="round"/>
<polyline points="407.0,102.0 407.0,104.3" fill="none" stroke="#0000ff" stroke-width="1.5" stroke-linejoin="round" stroke-linecap="round"/>
<polyline points="407.0,179.5 407.0,188.2" fill="none" stroke="#0000ff" stroke-width="1.5" stroke-linejoin="round" stroke-linecap="round"/>
<polyline points="594.0,129.9 594.6,129.0 595.2,128.7 595.8,128.2 596.4,127.5 597.0,127.3 597.6,127.4 598.2,127.8 598.8,128.6 599.4,128.3 600.0,128.4 600.6,128.3 601.2,128.2 601.8,127.7 602.4,128.7 603.0,130.0 603.6,130.8" fill="none" stroke="#0000ff" stroke-width="1.4" stroke-linejoin="round" stroke-linecap="round"/>
<polyline points="668.5,127.0 670.0,125.0 671.5,127.0" fill="none" stroke="#0000ff" stroke-width="1.3" stroke-linejoin="round" stroke-linecap="round"/>
<path d="M402.6,122.2 403.2,121.9 403.8,122.2 404.4,121.4 405.0,122.1 405.6,121.6 406.2,122.1 406.8,122.1 407.4,120.7 408.0,122.3 408.6,120.7 409.2,121.4 409.8,121.6 410.4,121.9 411.0,119.7 411.6,121.0 412.2,120.3 412.8,119.7 413.4,120.3 414.0,121.0 414.6,119.9 415.2,121.4 415.8,119.8 416.4,120.2 417.0,120.4 417.6,119.9 418.2,121.7 418.8,121.8 419.4,121.6 420.0,120.2 420.6,121.5 421.2,120.5 421.8,120.5 422.4,121.3 423.0,120.1 423.6,119.9 424.2,121.8 424.8,120.7 425.4,121.6 426.0,120.9 426.6,120.2 427.2,121.0 427.8,120.4 428.4,120.2 429.0,120.1 429.6,120.9 430.2,120.6 430.8,120.6 431.4,121.9 432.0,121.4 432.6,121.0 433.2,119.8 433.8,120.8 434.4,120.5 435.0,120.0 435.6,119.2 436.2,118.9 436.8,119.1 437.4,118.5 438.0,119.7 438.6,118.3 439.2,118.5 439.8,118.9 440.4,117.7 441.0,115.9 441.6,115.9 442.2,117.1 442.8,114.1 443.4,114.1 444.0,114.7 444.6,114.9 445.2,114.3 445.8,113.6 446.4,113.0 447.0,111.6 447.6,110.2 448.2,111.4 448.8,109.3 449.4,110.8 450.0,108.5 450.6,107.6 451.2,110.1 451.8,106.5 452.4,107.1 453.0,104.5 453.6,106.8 454.2,102.7 454.8,104.2 455.4,103.9 456.0,101.2 456.6,99.4 457.2,98.6 457.8,97.0 458.4,98.6 459.0,95.4 459.6,95.4 460.2,92.0 460.8,89.8 461.4,85.6 462.0,83.6 462.6,85.7 463.2,83.2 463.8,78.8 464.4,78.9 465.0,77.0 465.6,73.5 466.2,71.6 466.8,72.6 467.4,72.0 468.0,71.9 468.6,63.9 469.2,58.0 469.8,55.5 470.4,49.9 471.0,51.7 471.6,43.5 472.2,43.0 472.8,35.3 473.4,36.7 474.0,34.6 474.6,35.0 475.2,33.6 475.8,33.5 476.4,30.7 477.0,30.1 477.6,30.3 478.2,31.3 478.8,30.7 479.4,29.5 480.0,28.5 480.6,26.1 481.2,28.2 481.8,26.7 482.4,25.9 483.0,25.5 483.6,25.2 484.2,27.7 484.8,29.0 485.4,30.3 486.0,28.9 486.6,32.2 487.2,33.5 487.8,33.1 488.4,32.3 489.0,35.1 489.6,33.3 490.2,33.6 490.8,35.1 491.4,35.4 492.0,36.1 492.6,39.8 493.2,40.8 493.8,40.0 494.4,42.4 495.0,47.1 495.6,48.9 496.2,47.0 496.8,51.0 497.4,53.8 498.0,53.6 498.6,54.1 499.2,57.9 499.8,63.0 500.4,64.0 501.0,63.3 501.6,68.8 502.2,69.8 502.8,69.7 503.4,70.3 504.0,70.2 504.6,71.0 505.2,71.0 505.8,71.0 506.4,72.6 507.0,72.5 507.6,72.1 508.2,73.3 508.8,72.8 509.4,73.6 510.0,73.5 510.6,73.3 511.2,73.6 511.8,74.0 512.4,74.1 513.0,74.6 513.6,73.6 514.2,74.0 514.8,74.0 515.4,76.0 516.0,76.3 516.6,75.5 517.2,76.8 517.8,77.8 518.4,85.3 519.0,85.8 519.6,89.0 520.2,88.3 520.8,89.0 521.4,91.3 522.0,93.1 522.6,94.2 523.2,93.4 523.8,95.3 524.4,97.5 525.0,96.7 525.6,98.5 526.2,98.3 526.8,100.1 527.4,98.3 528.0,98.9 528.6,99.9 529.2,101.9 529.8,103.5 530.4,107.9 531.0,109.8 531.6,107.3 532.2,112.3 532.8,112.4 533.4,115.6 534.0,115.0 534.6,118.4 535.2,116.5 535.8,117.9 536.4,117.8 537.0,117.8 537.6,118.1 538.2,118.6 538.8,119.0 539.4,119.3 540.0,120.0 540.6,120.4 541.2,121.0 541.8,120.5 542.4,119.7 543.0,120.7 543.6,120.6 544.2,120.3 544.8,120.7 545.4,120.6 546.0,121.3 546.6,120.4 547.2,121.4 547.8,121.2 548.4,120.4 549.0,121.1 549.6,122.6 550.2,121.8 550.8,120.8 551.4,121.9 552.0,122.3 552.6,121.1 553.2,121.7 553.8,121.4 554.4,122.2 555.0,122.8 555.6,121.6 556.2,121.5 556.8,121.6 557.4,122.6 558.0,121.5 558.6,122.5 559.2,123.2 559.8,123.1 560.4,122.9 561.0,121.2 561.6,122.0 562.2,121.4 562.8,121.8 563.4,120.8 564.0,120.5 564.6,122.2 565.2,121.9 565.8,119.8 566.4,121.3 567.0,119.6 567.6,120.1 568.2,121.4 568.8,121.3 569.4,120.2 570.0,120.7 570.6,119.9 571.2,120.8 571.8,119.7 572.4,119.4 573.0,119.2 573.6,120.2 574.2,120.0 574.8,120.7 575.4,119.2 576.0,120.5 576.6,120.8 577.2,120.4 577.8,119.1 578.4,119.2 579.0,119.1 579.6,119.6 580.2,120.4 580.8,119.2 581.4,119.8 582.0,119.0 582.6,120.3 583.2,119.1 583.8,120.5 584.4,120.3 585.0,119.6 585.6,120.9 586.2,120.3 586.8,120.8 587.4,121.1 588.0,120.6 588.6,121.1 589.2,122.1 589.8,122.7 590.4,123.4 591.0,123.3 591.6,125.0 592.2,123.4 592.8,126.7 593.4,124.5 594.0,127.9 594.6,128.2 595.2,127.7 595.8,129.4 596.4,129.7 597.0,127.9 597.6,128.9 598.2,127.6 598.8,128.9 599.4,127.7 600.0,128.9 600.6,127.7 601.2,128.4 601.8,129.3 602.4,128.2 603.0,129.5 603.6,128.5 604.2,128.0 604.8,129.5 605.4,127.9 606.0,129.0 606.6,129.6 607.2,129.0 607.8,127.1 608.4,125.3 609.0,125.6 609.6,124.2 610.2,123.7 610.8,123.5 611.4,123.1 612.0,122.5 612.6,124.0 613.2,122.1 613.8,123.2 614.4,122.6 615.0,123.0 615.6,122.8 616.2,122.6 616.8,123.2 617.4,122.7 618.0,123.4 618.6,122.8 619.2,123.4 619.8,123.3 620.4,123.0 621.0,122.3 621.6,122.6 622.2,121.8 622.8,123.1 623.4,122.9 624.0,123.3 624.6,121.9 625.2,122.2 625.8,123.6 626.4,124.0 627.0,122.7 627.6,122.8 628.2,123.7 628.8,123.9 629.4,123.5 630.0,123.7 630.6,124.4 631.2,124.3 631.8,125.1 632.4,125.1 633.0,126.5 633.6,127.9 634.2,128.0 634.8,128.3 635.4,128.3 636.0,128.0 636.6,127.7 637.2,127.9 637.8,129.4 638.4,129.1 639.0,128.6 639.6,128.7 640.2,128.9 640.8,129.0 641.4,127.8 642.0,128.9 642.6,128.6 643.2,127.8 643.8,127.8 644.4,127.5 645.0,128.2 645.6,129.1 646.2,128.7 646.8,127.3 647.4,127.2 648.0,127.5 648.6,127.2 649.2,127.2 649.8,128.3 650.4,127.4 651.0,127.9 651.6,127.4 652.2,128.7 652.8,127.9 653.4,126.9 654.0,128.2 654.6,127.2 655.2,127.5 655.8,127.1 656.4,127.5 657.0,127.1 657.6,127.1 658.2,126.7 658.8,128.3 659.4,126.7 660.0,126.8 660.6,127.1 661.2,126.4 661.8,126.6 662.4,127.0 663.0,127.3 663.6,127.2 664.2,126.8 664.8,127.4 665.4,127.5 666.0,126.5 666.6,126.4 667.2,127.2 667.8,126.7 668.4,127.5 669.0,125.8 669.6,126.9 670.2,126.4 670.8,126.1 671.4,127.4 672.0,126.1 L672.0,165.0 671.4,164.7 670.8,163.9 670.2,162.4 669.6,162.4 669.0,162.8 668.4,163.3 667.8,163.2 667.2,164.0 666.6,162.8 666.0,164.0 665.4,163.0 664.8,163.0 664.2,164.0 663.6,162.1 663.0,162.8 662.4,163.3 661.8,164.3 661.2,164.6 660.6,165.3 660.0,163.0 659.4,164.4 658.8,162.9 658.2,162.9 657.6,163.8 657.0,162.9 656.4,164.9 655.8,162.7 655.2,163.1 654.6,164.4 654.0,164.0 653.4,161.9 652.8,163.2 652.2,161.7 651.6,163.8 651.0,163.5 650.4,162.9 649.8,162.1 649.2,163.5 648.6,162.8 648.0,163.0 647.4,161.4 646.8,161.4 646.2,161.6 645.6,162.6 645.0,162.3 644.4,160.9 643.8,159.3 643.2,159.5 642.6,159.4 642.0,158.5 641.4,159.3 640.8,158.0 640.2,158.6 639.6,159.4 639.0,158.4 638.4,158.4 637.8,157.7 637.2,157.8 636.6,158.5 636.0,158.5 635.4,159.0 634.8,157.0 634.2,158.2 633.6,157.5 633.0,156.9 632.4,157.2 631.8,156.5 631.2,158.2 630.6,158.4 630.0,158.3 629.4,158.2 628.8,157.9 628.2,155.4 627.6,156.5 627.0,157.6 626.4,155.8 625.8,154.7 625.2,155.4 624.6,155.2 624.0,155.4 623.4,154.3 622.8,155.5 622.2,155.9 621.6,154.8 621.0,153.6 620.4,153.8 619.8,156.2 619.2,155.1 618.6,154.8 618.0,154.7 617.4,154.9 616.8,154.5 616.2,154.8 615.6,155.3 615.0,153.1 614.4,153.0 613.8,152.7 613.2,152.6 612.6,153.0 612.0,153.9 611.4,154.1 610.8,153.1 610.2,152.8 609.6,153.1 609.0,153.8 608.4,151.4 607.8,151.0 607.2,152.3 606.6,153.3 606.0,152.5 605.4,151.6 604.8,150.9 604.2,152.3 603.6,151.9 603.0,152.0 602.4,151.8 601.8,151.0 601.2,152.8 600.6,150.6 600.0,151.8 599.4,152.8 598.8,150.9 598.2,152.8 597.6,152.8 597.0,152.2 596.4,150.9 595.8,151.3 595.2,152.8 594.6,150.3 594.0,150.3 593.4,152.3 592.8,151.2 592.2,151.9 591.6,150.9 591.0,150.9 590.4,151.1 589.8,152.4 589.2,151.8 588.6,152.6 588.0,151.0 587.4,150.7 586.8,151.3 586.2,152.8 585.6,151.3 585.0,153.0 584.4,150.9 583.8,150.5 583.2,151.5 582.6,151.8 582.0,152.4 581.4,152.0 580.8,151.5 580.2,151.8 579.6,151.2 579.0,151.2 578.4,152.3 577.8,152.4 577.2,153.3 576.6,153.3 576.0,153.8 575.4,153.6 574.8,153.6 574.2,153.0 573.6,153.6 573.0,152.0 572.4,152.8 571.8,152.5 571.2,153.8 570.6,155.0 570.0,153.4 569.4,153.8 568.8,153.9 568.2,152.8 567.6,154.8 567.0,154.9 566.4,152.0 565.8,159.6 565.2,160.4 564.6,159.1 564.0,159.5 563.4,161.6 562.8,161.5 562.2,161.8 561.6,160.5 561.0,161.2 560.4,160.6 559.8,159.7 559.2,161.6 558.6,159.1 558.0,160.0 557.4,159.8 556.8,161.0 556.2,160.7 555.6,159.8 555.0,162.3 554.4,162.4 553.8,160.9 553.2,160.9 552.6,163.0 552.0,163.5 551.4,162.2 550.8,163.4 550.2,164.1 549.6,161.5 549.0,161.5 548.4,161.7 547.8,160.0 547.2,161.5 546.6,161.5 546.0,161.9 545.4,161.1 544.8,160.5 544.2,158.8 543.6,159.2 543.0,159.6 542.4,159.5 541.8,160.7 541.2,159.0 540.6,159.6 540.0,157.7 539.4,159.8 538.8,160.2 538.2,157.5 537.6,154.0 537.0,155.2 536.4,156.0 535.8,155.7 535.2,154.3 534.6,150.8 534.0,153.5 533.4,152.2 532.8,151.4 532.2,153.0 531.6,151.7 531.0,151.7 530.4,151.2 529.8,151.2 529.2,152.8 528.6,151.7 528.0,151.3 527.4,152.0 526.8,152.4 526.2,152.9 525.6,151.8 525.0,152.4 524.4,152.3 523.8,150.8 523.2,150.5 522.6,150.7 522.0,149.5 521.4,149.1 520.8,151.0 520.2,149.1 519.6,150.4 519.0,149.9 518.4,147.6 517.8,149.7 517.2,148.5 516.6,147.5 516.0,147.8 515.4,146.7 514.8,148.3 514.2,148.8 513.6,146.8 513.0,146.8 512.4,145.7 511.8,147.5 511.2,146.7 510.6,147.0 510.0,143.9 509.4,145.5 508.8,142.3 508.2,144.2 507.6,142.6 507.0,144.0 506.4,142.4 505.8,139.6 505.2,139.6 504.6,140.6 504.0,138.1 503.4,140.4 502.8,138.6 502.2,137.0 501.6,137.0 501.0,133.3 500.4,135.0 499.8,131.5 499.2,132.2 498.6,132.6 498.0,128.8 497.4,125.5 496.8,128.0 496.2,124.9 495.6,123.2 495.0,122.2 494.4,123.8 493.8,118.0 493.2,117.2 492.6,116.1 492.0,118.5 491.4,117.2 490.8,115.9 490.2,117.4 489.6,118.8 489.0,120.8 488.4,121.1 487.8,122.1 487.2,122.3 486.6,123.3 486.0,121.7 485.4,121.3 484.8,123.1 484.2,124.5 483.6,123.5 483.0,124.9 482.4,125.6 481.8,129.6 481.2,131.3 480.6,129.1 480.0,131.9 479.4,131.6 478.8,135.6 478.2,133.9 477.6,133.3 477.0,135.1 476.4,138.6 475.8,137.3 475.2,140.1 474.6,138.2 474.0,141.4 473.4,142.3 472.8,141.3 472.2,141.2 471.6,141.5 471.0,141.0 470.4,141.9 469.8,141.1 469.2,141.5 468.6,143.3 468.0,141.7 467.4,142.4 466.8,141.0 466.2,141.1 465.6,142.7 465.0,141.7 464.4,141.7 463.8,141.4 463.2,141.4 462.6,140.4 462.0,140.1 461.4,140.2 460.8,142.9 460.2,141.0 459.6,142.3 459.0,142.0 458.4,141.6 457.8,142.1 457.2,141.3 456.6,142.3 456.0,142.3 455.4,142.0 454.8,143.6 454.2,142.9 453.6,145.0 453.0,146.1 452.4,145.1 451.8,145.6 451.2,144.8 450.6,144.6 450.0,145.9 449.4,148.4 448.8,149.0 448.2,147.7 447.6,150.5 447.0,150.9 446.4,150.4 445.8,151.9 445.2,152.6 444.6,151.9 444.0,153.7 443.4,158.4 442.8,157.5 442.2,159.7 441.6,160.0 441.0,159.9 440.4,161.1 439.8,164.3 439.2,164.1 438.6,162.4 438.0,159.9 437.4,161.5 436.8,161.7 436.2,161.8 435.6,163.1 435.0,161.2 434.4,163.5 433.8,160.9 433.2,163.0 432.6,161.1 432.0,161.3 431.4,163.4 430.8,164.1 430.2,163.3 429.6,163.3 429.0,163.8 428.4,161.8 427.8,162.7 427.2,163.3 426.6,163.0 426.0,160.7 425.4,162.9 424.8,160.5 424.2,162.6 423.6,161.2 423.0,160.2 422.4,160.1 421.8,160.2 421.2,159.9 420.6,158.2 420.0,159.6 419.4,159.4 418.8,160.0 418.2,160.1 417.6,158.2 417.0,158.8 416.4,159.2 415.8,160.1 415.2,160.7 414.6,159.6 414.0,160.1 413.4,158.5 412.8,161.9 412.2,161.6 411.6,162.4 411.0,161.5 410.4,164.0 409.8,162.2 409.2,161.7 408.6,162.2 408.0,162.9 407.4,161.7 406.8,161.4 406.2,164.8 405.6,166.7 405.0,167.3 404.4,167.9 403.8,165.4 403.2,166.0 402.6,166.5Z" fill="#008000" stroke="#008000" stroke-width="0.6" stroke-linejoin="round"/>
<polyline points="410.2,121.4 411.3,118.5 412.4,121.0 413.9,121.1 415.0,114.1 416.1,121.1 418.1,121.2 419.2,102.7 420.2,121.2 422.3,121.3 423.4,111.9 424.4,121.4 426.8,121.4 427.8,115.2 428.9,121.5 431.1,121.2 432.1,106.4 433.2,120.7 435.4,120.1 436.5,105.4 437.6,119.2 439.8,118.0 440.9,102.1 441.9,116.2 443.8,114.7 444.9,96.1 445.9,113.0 447.9,111.3 449.0,92.2 450.1,109.6 451.9,107.4 453.0,96.6 454.1,104.6 455.8,102.1 456.9,92.2 457.9,98.2" fill="none" stroke="#008000" stroke-width="1.35" stroke-linejoin="round" stroke-linecap="round"/>
<polyline points="410.2,121.4 411.2,119.8 412.2,121.0 413.8,121.1 414.8,117.0 415.8,121.1 418.6,121.2 419.6,113.6 420.6,121.3 422.8,121.3 423.8,116.8 424.8,121.4 427.1,121.4 428.1,118.7 429.1,121.5 431.2,121.2 432.2,111.3 433.2,120.7 435.0,120.2 436.0,112.8 437.0,119.5 440.2,117.7 441.2,109.7 442.2,116.1 444.0,114.6 445.0,104.6 446.0,112.9 448.2,111.1 449.2,100.2 450.2,109.5 452.2,107.1 453.2,99.7 454.2,104.4 455.9,102.0 456.9,96.2 457.9,98.2" fill="none" stroke="#008000" stroke-width="1.3" stroke-linejoin="round" stroke-linecap="round"/>
<polyline points="539.5,119.6 540.5,118.4 541.5,120.3 542.8,120.7 543.8,119.5 544.8,121.4 546.0,121.6 547.0,118.4 548.0,121.8 550.0,122.0 551.0,111.4 552.0,122.2 553.7,122.4 554.7,119.5 555.8,122.6 565.8,121.1 566.8,116.2 567.8,120.8 569.7,120.6 570.7,106.8 571.8,120.4 573.9,120.3 574.9,100.8 575.9,120.3 577.9,120.3 578.9,98.2 579.9,120.3 581.8,120.3 582.8,106.3 583.8,120.3 586.2,120.9 587.2,114.0 588.2,121.5 590.4,122.4 591.4,119.5 592.4,124.9 603.0,129.0 604.0,125.0 605.0,129.0 607.0,127.9 608.0,124.0 609.0,125.6 611.2,124.2 612.2,116.2 613.2,123.5 615.1,123.0 616.1,109.6 617.1,123.0 619.1,123.0 620.1,102.6 621.1,123.0 623.2,123.0 624.3,113.6 625.3,123.4 627.2,124.1 628.2,118.4 629.2,124.8 631.6,126.0 632.6,122.8 633.6,127.4 635.2,128.5 636.3,125.0 637.3,128.9 639.2,128.8 640.3,126.0 641.3,128.7 644.8,128.5 645.8,125.0 646.8,128.4 649.0,128.3 650.0,124.0 651.0,128.2 652.4,128.1 653.4,122.8 654.4,128.0" fill="none" stroke="#008000" stroke-width="1.35" stroke-linejoin="round" stroke-linecap="round"/>
<polyline points="539.3,119.5 540.3,119.1 541.3,120.2 543.2,120.9 544.2,120.3 545.2,121.5 545.6,121.6 546.6,119.6 547.6,121.8 550.0,122.0 551.0,116.8 552.0,122.2 553.2,122.3 554.2,121.1 555.2,122.5 566.1,121.0 567.1,119.0 568.1,120.8 569.4,120.7 570.4,111.3 571.4,120.5 574.2,120.3 575.2,109.2 576.2,120.3 577.6,120.3 578.6,103.9 579.6,120.3 581.5,120.3 582.5,113.1 583.5,120.3 586.4,121.0 587.4,116.7 588.4,121.6 590.8,123.0 591.8,121.3 592.8,125.3 603.0,129.0 604.0,126.6 605.0,129.0 606.9,128.0 607.9,125.0 608.9,125.7 611.5,124.0 612.5,119.3 613.5,123.4 614.8,123.1 615.8,115.0 616.8,123.0 619.5,123.0 620.5,112.3 621.5,123.0 622.9,123.0 623.9,117.4 624.9,123.3 627.2,124.1 628.2,119.9 629.2,124.7 632.1,126.4 633.1,125.0 634.1,127.7 634.9,128.3 635.9,126.8 636.9,129.0 639.1,128.8 640.1,126.9 641.1,128.7 644.6,128.5 645.6,125.9 646.6,128.4 649.2,128.3 650.2,125.6 651.2,128.2 652.6,128.1 653.6,125.6 654.6,128.0" fill="none" stroke="#008000" stroke-width="1.3" stroke-linejoin="round" stroke-linecap="round"/>
<path d="M402.6,122.0 403.2,121.0 403.8,122.5 404.4,122.0 405.0,121.0 405.6,121.4 406.2,120.9 406.8,121.9 407.4,124.5 408.0,123.1 408.6,123.7 409.2,125.5 409.8,123.6 410.4,124.1 411.0,126.3 411.6,124.9 412.2,126.6 412.8,127.6 413.4,127.1 414.0,125.9 414.6,126.2 415.2,127.0 415.8,127.9 416.4,127.2 417.0,127.3 417.6,127.1 418.2,126.5 418.8,127.1 419.4,125.8 420.0,126.7 420.6,127.6 421.2,126.2 421.8,127.2 422.4,127.4 423.0,126.1 423.6,127.7 424.2,126.3 424.8,127.9 425.4,126.5 426.0,127.1 426.6,127.9 427.2,127.6 427.8,126.8 428.4,126.2 429.0,127.2 429.6,126.9 430.2,125.2 430.8,125.8 431.4,127.0 432.0,125.6 432.6,124.3 433.2,125.3 433.8,124.4 434.4,125.4 435.0,123.9 435.6,122.3 436.2,122.4 436.8,122.1 437.4,124.0 438.0,122.1 438.6,121.7 439.2,123.2 439.8,120.7 440.4,121.5 441.0,122.1 441.6,121.5 442.2,118.7 442.8,119.2 443.4,118.0 444.0,118.9 444.6,117.0 445.2,116.3 445.8,116.1 446.4,115.2 447.0,116.6 447.6,114.7 448.2,114.6 448.8,113.7 449.4,113.6 450.0,112.9 450.6,112.6 451.2,113.2 451.8,110.5 452.4,111.6 453.0,109.5 453.6,107.8 454.2,107.1 454.8,109.2 455.4,105.2 456.0,105.3 456.6,106.7 457.2,102.9 457.8,101.7 458.4,99.7 459.0,101.1 459.6,93.8 460.2,97.0 460.8,89.1 461.4,89.8 462.0,88.9 462.6,85.3 463.2,82.6 463.8,80.3 464.4,77.8 465.0,80.1 465.6,75.4 466.2,75.0 466.8,73.2 467.4,73.6 468.0,68.3 468.6,63.3 469.2,64.6 469.8,57.4 470.4,54.0 471.0,49.9 471.6,47.2 472.2,43.7 472.8,38.5 473.4,33.1 474.0,35.6 474.6,31.1 475.2,33.1 475.8,29.9 476.4,31.8 477.0,31.0 477.6,28.8 478.2,32.9 478.8,33.3 479.4,32.6 480.0,34.8 480.6,32.6 481.2,30.8 481.8,31.8 482.4,26.0 483.0,24.2 483.6,29.2 484.2,27.2 484.8,32.8 485.4,31.1 486.0,35.6 486.6,35.1 487.2,38.0 487.8,40.1 488.4,40.8 489.0,43.5 489.6,46.3 490.2,45.2 490.8,50.9 491.4,51.3 492.0,49.7 492.6,51.0 493.2,53.0 493.8,55.9 494.4,55.9 495.0,56.2 495.6,59.5 496.2,58.1 496.8,62.3 497.4,64.6 498.0,62.7 498.6,66.9 499.2,67.7 499.8,69.0 500.4,67.4 501.0,68.3 501.6,70.2 502.2,68.2 502.8,70.9 503.4,69.6 504.0,69.8 504.6,71.8 505.2,70.4 505.8,70.2 506.4,70.4 507.0,71.9 507.6,72.0 508.2,71.1 508.8,71.9 509.4,71.5 510.0,73.0 510.6,71.9 511.2,72.7 511.8,73.5 512.4,72.0 513.0,74.0 513.6,73.1 514.2,73.8 514.8,73.1 515.4,74.6 516.0,75.0 516.6,75.1 517.2,77.5 517.8,77.6 518.4,76.5 519.0,86.4 519.6,87.0 520.2,88.8 520.8,90.5 521.4,88.9 522.0,90.8 522.6,91.0 523.2,94.1 523.8,95.7 524.4,95.7 525.0,97.0 525.6,96.0 526.2,95.6 526.8,97.8 527.4,97.6 528.0,98.9 528.6,99.4 529.2,99.9 529.8,105.2 530.4,106.8 531.0,110.3 531.6,113.4 532.2,110.8 532.8,116.6 533.4,117.4 534.0,118.0 534.6,121.8 535.2,120.2 535.8,118.9 536.4,119.4 537.0,120.1 537.6,121.4 538.2,121.3 538.8,121.8 539.4,120.3 540.0,121.1 540.6,121.9 541.2,122.3 541.8,121.8 542.4,121.4 543.0,121.7 543.6,122.9 544.2,122.8 544.8,121.8 545.4,123.4 546.0,121.4 546.6,121.8 547.2,122.3 547.8,123.1 548.4,122.6 549.0,122.9 549.6,123.5 550.2,122.2 550.8,121.8 551.4,122.3 552.0,122.7 552.6,121.7 553.2,121.5 553.8,123.1 554.4,123.7 555.0,123.6 555.6,122.4 556.2,122.6 556.8,123.4 557.4,123.9 558.0,122.5 558.6,123.9 559.2,123.4 559.8,122.2 560.4,122.9 561.0,121.9 561.6,123.0 562.2,123.3 562.8,124.0 563.4,122.9 564.0,123.8 564.6,123.9 565.2,123.6 565.8,124.0 566.4,123.8 567.0,124.3 567.6,124.1 568.2,125.3 568.8,123.5 569.4,125.5 570.0,125.3 570.6,123.6 571.2,125.5 571.8,124.8 572.4,125.3 573.0,125.4 573.6,126.1 574.2,125.6 574.8,126.1 575.4,125.2 576.0,125.0 576.6,126.6 577.2,127.6 577.8,125.4 578.4,127.7 579.0,126.5 579.6,127.3 580.2,126.4 580.8,127.6 581.4,127.1 582.0,128.1 582.6,126.9 583.2,127.2 583.8,128.0 584.4,126.9 585.0,129.1 585.6,128.4 586.2,129.4 586.8,127.5 587.4,129.0 588.0,127.8 588.6,127.7 589.2,128.7 589.8,128.9 590.4,129.2 591.0,129.1 591.6,128.5 592.2,129.9 592.8,129.0 593.4,129.1 594.0,130.5 594.6,130.3 595.2,130.6 595.8,131.2 596.4,131.1 597.0,129.7 597.6,131.7 598.2,130.7 598.8,130.9 599.4,130.3 600.0,130.7 600.6,131.2 601.2,130.0 601.8,131.7 602.4,130.8 603.0,131.6 603.6,131.8 604.2,131.5 604.8,130.3 605.4,131.5 606.0,131.0 606.6,131.9 607.2,131.9 607.8,131.4 608.4,132.0 609.0,130.7 609.6,132.3 610.2,132.6 610.8,132.5 611.4,132.3 612.0,131.4 612.6,132.7 613.2,131.9 613.8,131.1 614.4,131.9 615.0,132.6 615.6,132.2 616.2,132.6 616.8,130.8 617.4,133.0 618.0,132.9 618.6,132.0 619.2,133.0 619.8,131.3 620.4,131.8 621.0,131.3 621.6,132.5 622.2,133.1 622.8,133.2 623.4,131.1 624.0,132.7 624.6,132.0 625.2,131.1 625.8,132.6 626.4,131.6 627.0,130.3 627.6,131.0 628.2,131.7 628.8,132.0 629.4,130.3 630.0,131.1 630.6,129.8 631.2,131.7 631.8,129.4 632.4,131.6 633.0,130.5 633.6,130.9 634.2,130.6 634.8,130.0 635.4,129.8 636.0,129.1 636.6,129.2 637.2,128.6 637.8,128.9 638.4,129.7 639.0,129.4 639.6,129.3 640.2,129.1 640.8,130.0 641.4,129.7 642.0,128.1 642.6,128.7 643.2,129.6 643.8,127.8 644.4,128.7 645.0,128.5 645.6,128.5 646.2,128.2 646.8,128.6 647.4,127.8 648.0,129.0 648.6,128.2 649.2,127.6 649.8,128.3 650.4,128.3 651.0,128.8 651.6,128.2 652.2,127.9 652.8,127.5 653.4,127.6 654.0,127.2 654.6,128.4 655.2,130.2 655.8,125.3 656.4,120.1 657.0,122.6 657.6,130.5 658.2,127.2 658.8,128.1 659.4,128.7 660.0,128.7 660.6,127.8 661.2,128.6 661.8,127.5 662.4,128.7 663.0,128.1 663.6,126.7 664.2,128.4 664.8,126.9 665.4,128.8 666.0,126.6 666.6,128.3 667.2,126.6 667.8,127.4 668.4,126.8 669.0,128.0 669.6,126.4 670.2,128.4 670.8,125.1 671.4,120.9 672.0,127.2 L672.0,162.1 671.4,161.9 670.8,162.6 670.2,160.9 669.6,160.2 669.0,162.7 668.4,161.8 667.8,162.8 667.2,161.9 666.6,161.2 666.0,160.1 665.4,160.5 664.8,160.3 664.2,160.8 663.6,159.7 663.0,162.4 662.4,162.3 661.8,162.1 661.2,158.9 660.6,160.6 660.0,160.6 659.4,159.3 658.8,159.5 658.2,159.1 657.6,160.5 657.0,160.5 656.4,161.4 655.8,160.8 655.2,158.0 654.6,158.5 654.0,159.8 653.4,160.2 652.8,159.9 652.2,157.4 651.6,158.7 651.0,159.6 650.4,159.4 649.8,157.7 649.2,160.2 648.6,158.5 648.0,159.9 647.4,159.7 646.8,157.7 646.2,159.2 645.6,158.9 645.0,159.4 644.4,159.6 643.8,156.8 643.2,157.4 642.6,157.1 642.0,157.7 641.4,156.2 640.8,158.5 640.2,156.4 639.6,156.1 639.0,155.1 638.4,156.5 637.8,157.1 637.2,156.8 636.6,155.4 636.0,156.8 635.4,155.9 634.8,155.4 634.2,155.2 633.6,154.1 633.0,155.3 632.4,157.2 631.8,155.3 631.2,156.3 630.6,154.9 630.0,155.3 629.4,153.4 628.8,155.8 628.2,156.0 627.6,154.0 627.0,155.5 626.4,152.6 625.8,153.3 625.2,153.4 624.6,153.6 624.0,153.2 623.4,153.0 622.8,152.2 622.2,152.8 621.6,152.7 621.0,152.9 620.4,153.9 619.8,154.6 619.2,154.6 618.6,153.6 618.0,151.7 617.4,152.5 616.8,153.3 616.2,154.0 615.6,152.2 615.0,153.0 614.4,151.8 613.8,151.1 613.2,153.8 612.6,153.0 612.0,150.7 611.4,152.0 610.8,151.2 610.2,150.6 609.6,152.9 609.0,153.1 608.4,150.1 607.8,152.2 607.2,152.7 606.6,150.6 606.0,151.2 605.4,152.0 604.8,150.7 604.2,151.6 603.6,152.2 603.0,150.0 602.4,149.0 601.8,151.1 601.2,151.1 600.6,149.7 600.0,149.0 599.4,150.0 598.8,150.7 598.2,148.7 597.6,149.3 597.0,148.6 596.4,151.1 595.8,148.6 595.2,149.3 594.6,148.6 594.0,150.0 593.4,148.8 592.8,149.0 592.2,150.7 591.6,149.9 591.0,148.7 590.4,149.7 589.8,148.8 589.2,149.9 588.6,148.9 588.0,150.9 587.4,148.3 586.8,150.9 586.2,149.6 585.6,149.2 585.0,149.9 584.4,149.4 583.8,148.3 583.2,149.0 582.6,149.9 582.0,149.1 581.4,148.7 580.8,150.2 580.2,149.7 579.6,148.8 579.0,149.3 578.4,150.8 577.8,150.5 577.2,147.7 576.6,149.8 576.0,151.2 575.4,148.4 574.8,151.5 574.2,149.8 573.6,150.7 573.0,150.7 572.4,149.9 571.8,151.2 571.2,151.3 570.6,151.6 570.0,150.6 569.4,151.2 568.8,149.1 568.2,151.2 567.6,151.5 567.0,151.9 566.4,152.2 565.8,151.8 565.2,152.7 564.6,149.7 564.0,151.2 563.4,151.3 562.8,152.6 562.2,151.8 561.6,151.7 561.0,153.3 560.4,150.6 559.8,151.2 559.2,150.5 558.6,150.7 558.0,152.3 557.4,153.5 556.8,154.0 556.2,152.2 555.6,151.0 555.0,151.3 554.4,153.8 553.8,152.2 553.2,153.4 552.6,154.3 552.0,154.4 551.4,154.0 550.8,154.3 550.2,153.2 549.6,152.8 549.0,153.5 548.4,153.9 547.8,154.5 547.2,154.3 546.6,153.9 546.0,153.5 545.4,152.6 544.8,151.5 544.2,154.0 543.6,152.0 543.0,152.7 542.4,151.8 541.8,154.0 541.2,153.3 540.6,152.2 540.0,153.5 539.4,152.5 538.8,153.9 538.2,153.9 537.6,154.2 537.0,154.0 536.4,154.6 535.8,154.4 535.2,153.5 534.6,153.0 534.0,154.9 533.4,154.5 532.8,152.9 532.2,151.6 531.6,152.1 531.0,152.1 530.4,153.1 529.8,154.0 529.2,151.4 528.6,154.2 528.0,153.2 527.4,151.8 526.8,153.5 526.2,153.6 525.6,150.5 525.0,151.6 524.4,153.1 523.8,153.4 523.2,152.8 522.6,151.5 522.0,151.3 521.4,148.9 520.8,150.2 520.2,149.6 519.6,151.2 519.0,150.6 518.4,148.8 517.8,149.0 517.2,149.2 516.6,148.3 516.0,147.8 515.4,147.4 514.8,146.8 514.2,146.9 513.6,150.0 513.0,149.0 512.4,146.5 511.8,147.8 511.2,148.1 510.6,146.4 510.0,144.3 509.4,144.4 508.8,145.7 508.2,143.3 507.6,141.3 507.0,142.2 506.4,140.2 505.8,140.9 505.2,139.8 504.6,139.3 504.0,140.0 503.4,138.3 502.8,139.0 502.2,136.9 501.6,133.9 501.0,132.9 500.4,133.9 499.8,134.7 499.2,132.8 498.6,127.9 498.0,130.3 497.4,127.8 496.8,126.5 496.2,124.1 495.6,122.4 495.0,124.5 494.4,120.6 493.8,120.3 493.2,120.2 492.6,117.4 492.0,119.4 491.4,116.4 490.8,120.1 490.2,117.4 489.6,120.9 489.0,121.3 488.4,120.1 487.8,120.8 487.2,120.2 486.6,120.7 486.0,121.5 485.4,123.2 484.8,125.9 484.2,124.3 483.6,128.1 483.0,124.9 482.4,128.6 481.8,130.9 481.2,128.5 480.6,133.4 480.0,134.1 479.4,132.5 478.8,133.9 478.2,133.5 477.6,134.9 477.0,136.2 476.4,138.0 475.8,138.3 475.2,138.6 474.6,140.0 474.0,141.3 473.4,139.7 472.8,141.1 472.2,143.9 471.6,144.5 471.0,142.7 470.4,142.9 469.8,144.7 469.2,142.3 468.6,144.3 468.0,143.6 467.4,142.2 466.8,142.1 466.2,141.4 465.6,141.2 465.0,142.7 464.4,142.0 463.8,142.3 463.2,143.0 462.6,142.3 462.0,144.0 461.4,141.6 460.8,142.9 460.2,142.9 459.6,142.0 459.0,142.4 458.4,144.3 457.8,142.1 457.2,141.7 456.6,141.5 456.0,145.5 455.4,145.7 454.8,144.4 454.2,145.5 453.6,144.2 453.0,144.6 452.4,145.4 451.8,144.8 451.2,144.2 450.6,148.7 450.0,145.8 449.4,150.6 448.8,149.7 448.2,152.4 447.6,153.2 447.0,151.7 446.4,151.6 445.8,154.5 445.2,154.5 444.6,152.4 444.0,152.3 443.4,152.9 442.8,153.9 442.2,152.7 441.6,154.6 441.0,153.9 440.4,153.9 439.8,155.2 439.2,152.9 438.6,153.9 438.0,153.1 437.4,153.9 436.8,155.8 436.2,153.4 435.6,153.1 435.0,154.9 434.4,153.5 433.8,153.9 433.2,153.0 432.6,154.5 432.0,154.3 431.4,156.0 430.8,154.7 430.2,153.3 429.6,154.5 429.0,155.4 428.4,153.1 427.8,154.3 427.2,155.4 426.6,153.9 426.0,154.1 425.4,155.2 424.8,153.9 424.2,154.6 423.6,153.3 423.0,154.3 422.4,153.1 421.8,154.4 421.2,153.5 420.6,154.9 420.0,153.7 419.4,155.3 418.8,154.1 418.2,154.9 417.6,153.7 417.0,155.6 416.4,155.7 415.8,153.8 415.2,155.9 414.6,156.2 414.0,154.3 413.4,155.1 412.8,158.2 412.2,155.3 411.6,156.4 411.0,156.9 410.4,157.3 409.8,155.5 409.2,155.5 408.6,158.6 408.0,160.3 407.4,160.3 406.8,158.0 406.2,162.9 405.6,163.1 405.0,161.9 404.4,166.5 403.8,163.9 403.2,164.5 402.6,167.6Z" fill="#ff0000" stroke="#ff0000" stroke-width="0.6" stroke-linejoin="round"/>
<polyline points="403.0,95.5 403.0,187.1" fill="none" stroke="#ff0000" stroke-width="1.5" stroke-linejoin="round" stroke-linecap="round"/>
<polyline points="407.0,104.3 407.0,179.5" fill="none" stroke="#ff0000" stroke-width="1.5" stroke-linejoin="round" stroke-linecap="round"/>
<polyline points="671.0,120.0 671.0,170.0" fill="none" stroke="#ff0000" stroke-width="1.4" stroke-linejoin="round" stroke-linecap="round"/>
<path d="M476.2,128.4l-1.2,4.8M472.7,131.7l-1.2,4.9M458.2,137.9l-0.9,3.6M456.1,135.0l-1.2,5.0M488.1,110.5l-0.8,3.8M481.2,120.3l-0.7,3.2M458.6,131.9l-0.5,2.3M466.2,137.1l-0.6,2.5M483.7,119.8l-0.5,2.5M472.3,135.1l-0.8,3.3M487.1,112.6l-1.0,3.9M460.6,134.3l-0.8,4.3M481.3,119.0l-0.4,2.3M472.7,132.6l-0.9,3.9M489.3,112.0l-1.0,5.0M471.7,136.9l-1.3,4.4" fill="none" stroke="#0000ff" stroke-width="1.1" stroke-linecap="round"/>
<path d="M510.4,76.5l0.8,3.0M528.6,105.0l0.9,3.7M511.5,75.3l0.6,3.7M511.0,75.0l0.8,2.8M520.3,97.4l0.5,3.2M509.2,80.3l1.3,4.7M504.0,72.0l0.6,3.7M525.6,98.5l0.3,2.0" fill="none" stroke="#0000ff" stroke-width="1.0" stroke-linecap="round"/>
<path d="M496.0,60.0l1.0,4.5M499.3,67.9l0.7,2.8M487.5,39.4l0.7,4.2M495.2,59.0l0.9,5.0M499.7,69.5l0.6,3.0M489.4,51.2l0.5,3.0M497.7,63.5l0.7,4.1M495.2,58.7l0.8,4.2" fill="none" stroke="#008000" stroke-width="1.0" stroke-linecap="round"/>
<path d="M507.2,55.8l1.8,10.2M499.2,61.1l0.9,7.3M501.6,61.3l1.8,10.7M505.4,57.7l0.9,8.1M499.4,58.2l1.1,6.4M505.2,57.6l0.8,6.9M506.0,48.4l1.0,8.4M497.5,50.8l1.0,7.5M504.1,57.2l1.6,11.5M500.7,56.0l0.6,6.2M497.1,47.0l1.6,9.5M504.2,62.0l0.9,8.7M500.1,62.7l0.8,8.6M503.4,44.6l1.8,11.4M504.4,54.3l1.3,7.5M501.9,53.9l0.8,8.2M505.8,66.1l1.0,5.4M505.9,54.0l1.3,11.3M503.4,44.8l1.6,9.8M500.0,47.9l1.0,8.6M506.6,44.9l1.7,10.4M507.1,56.5l1.1,9.9M504.5,62.7l1.2,7.7M500.2,56.6l1.2,11.2M499.0,61.4l0.5,5.1M499.7,48.3l1.2,10.2M497.3,56.9l0.5,5.4M507.6,51.4l0.6,5.2M506.8,45.9l1.0,10.3M497.5,57.2l1.5,10.2" fill="none" stroke="#0000ff" stroke-width="1.4" stroke-linecap="round"/>
<path d="M496.8,54.0l0.9,5.3M501.1,56.0l1.3,6.9M493.0,57.1l2.1,7.9M501.0,59.3l1.3,5.3M496.1,44.6l1.3,6.4M501.8,56.0l1.3,5.4" fill="none" stroke="#008000" stroke-width="1.1" stroke-linecap="round"/>
<polyline points="506.0,74.5 506.5,69.8 507.0,66.5 507.5,62.9 508.0,60.0 508.5,57.1 509.0,55.1 509.5,53.1 510.0,52.0 510.5,50.3 511.0,49.1 511.5,49.0 512.0,47.3 512.5,47.1 513.0,47.1 513.5,47.2 514.0,48.0 514.5,48.9 515.0,49.3 515.5,51.0 516.0,51.6 516.5,53.0 517.0,55.1 517.5,56.5 518.0,59.4 518.5,60.9 519.0,62.6 519.5,64.5 520.0,67.4 520.5,69.6 521.0,71.7 521.5,74.1 522.0,77.2 522.5,78.8 523.0,82.1 523.5,83.4 524.0,85.2 524.5,87.3 525.0,89.2 525.5,90.4 526.0,92.0 526.5,94.1 527.0,95.1 527.5,95.5" fill="none" stroke="#ff0000" stroke-width="3.0" stroke-linejoin="round" stroke-linecap="round"/>
<polyline points="508.5,74.4 509.0,73.9 509.5,70.0 510.0,66.5 510.5,63.0 511.0,60.3 511.5,58.0 512.0,56.9 512.5,55.7 513.0,55.3 513.5,56.2 514.0,57.1 514.5,58.6 515.0,60.8 515.5,63.7 516.0,66.6 516.5,70.1 517.0,74.0 517.5,73.7" fill="none" stroke="#ff0000" stroke-width="1.4" stroke-linejoin="round" stroke-linecap="round"/>
</g>
<line x1="48.01" y1="222.5" x2="48.01" y2="225.42" class="tk"/>
<text x="48.01" y="235.75" class="tl" text-anchor="middle">30000</text>
<line x1="178.83" y1="222.5" x2="178.83" y2="225.42" class="tk"/>
<text x="178.83" y="235.75" class="tl" text-anchor="middle">40000</text>
<line x1="309.65" y1="222.5" x2="309.65" y2="225.42" class="tk"/>
<text x="309.65" y="235.75" class="tl" text-anchor="middle">50000</text>
<line x1="31.68" y1="222.50" x2="34.60" y2="222.50" class="tk"/>
<text x="28.76" y="225.54" class="tl" text-anchor="end">−90</text>
<line x1="31.68" y1="186.00" x2="34.60" y2="186.00" class="tk"/>
<text x="28.76" y="189.04" class="tl" text-anchor="end">−89</text>
<line x1="31.68" y1="149.50" x2="34.60" y2="149.50" class="tk"/>
<text x="28.76" y="152.54" class="tl" text-anchor="end">−88</text>
<line x1="31.68" y1="113.00" x2="34.60" y2="113.00" class="tk"/>
<text x="28.76" y="116.04" class="tl" text-anchor="end">−87</text>
<line x1="31.68" y1="76.50" x2="34.60" y2="76.50" class="tk"/>
<text x="28.76" y="79.54" class="tl" text-anchor="end">−86</text>
<line x1="31.68" y1="40.00" x2="34.60" y2="40.00" class="tk"/>
<text x="28.76" y="43.04" class="tl" text-anchor="end">−85</text>
<line x1="31.68" y1="3.50" x2="34.60" y2="3.50" class="tk"/>
<text x="28.76" y="6.54" class="tl" text-anchor="end">−84</text>
<rect x="34.6" y="3.5" width="295.0" height="219.0" class="sp"/>
<text x="182.10" y="247.1" class="tl" text-anchor="middle">Frequency (kHz)</text>
<text transform="translate(6.90,113.00) rotate(-90)" class="tl" text-anchor="middle">Phase Angle</text>
<rect x="204.0" y="7.5" width="121.40" height="38.9" rx="1.6" ry="1.6" class="lg"/>
<line x1="207.33" y1="14.10" x2="224.00" y2="14.10" stroke="#0000ff" stroke-width="1.25" stroke-linecap="square"/>
<text x="230.67" y="17.31" class="tl">Gel_train (actual)</text>
<line x1="207.33" y1="26.35" x2="224.00" y2="26.35" stroke="#008000" stroke-width="1.25" stroke-linecap="square"/>
<text x="230.67" y="29.56" class="tl">Solution (generated)</text>
<line x1="207.33" y1="38.60" x2="224.00" y2="38.60" stroke="#ff0000" stroke-width="1.25" stroke-linecap="square"/>
<text x="230.67" y="41.81" class="tl">Solution_train (actual)</text>
<text x="179.50" y="275.0" class="pl" text-anchor="middle">(a)</text>
<line x1="403.01" y1="222.5" x2="403.01" y2="225.42" class="tk"/>
<text x="403.01" y="235.75" class="tl" text-anchor="middle">30000</text>
<line x1="533.83" y1="222.5" x2="533.83" y2="225.42" class="tk"/>
<text x="533.83" y="235.75" class="tl" text-anchor="middle">40000</text>
<line x1="664.65" y1="222.5" x2="664.65" y2="225.42" class="tk"/>
<text x="664.65" y="235.75" class="tl" text-anchor="middle">50000</text>
<line x1="386.68" y1="222.50" x2="389.60" y2="222.50" class="tk"/>
<text x="383.76" y="225.54" class="tl" text-anchor="end">−90</text>
<line x1="386.68" y1="186.00" x2="389.60" y2="186.00" class="tk"/>
<text x="383.76" y="189.04" class="tl" text-anchor="end">−89</text>
<line x1="386.68" y1="149.50" x2="389.60" y2="149.50" class="tk"/>
<text x="383.76" y="152.54" class="tl" text-anchor="end">−88</text>
<line x1="386.68" y1="113.00" x2="389.60" y2="113.00" class="tk"/>
<text x="383.76" y="116.04" class="tl" text-anchor="end">−87</text>
<line x1="386.68" y1="76.50" x2="389.60" y2="76.50" class="tk"/>
<text x="383.76" y="79.54" class="tl" text-anchor="end">−86</text>
<line x1="386.68" y1="40.00" x2="389.60" y2="40.00" class="tk"/>
<text x="383.76" y="43.04" class="tl" text-anchor="end">−85</text>
<line x1="386.68" y1="3.50" x2="389.60" y2="3.50" class="tk"/>
<text x="383.76" y="6.54" class="tl" text-anchor="end">−84</text>
<rect x="389.6" y="3.5" width="295.0" height="219.0" class="sp"/>
<text x="537.10" y="247.1" class="tl" text-anchor="middle">Frequency (kHz)</text>
<text transform="translate(361.90,113.00) rotate(-90)" class="tl" text-anchor="middle">Phase Angle</text>
<rect x="562.5" y="7.5" width="118.10" height="38.9" rx="1.6" ry="1.6" class="lg"/>
<line x1="565.83" y1="14.10" x2="582.50" y2="14.10" stroke="#0000ff" stroke-width="1.25" stroke-linecap="square"/>
<text x="589.17" y="17.31" class="tl">Gel_test (actual)</text>
<line x1="565.83" y1="26.35" x2="582.50" y2="26.35" stroke="#008000" stroke-width="1.25" stroke-linecap="square"/>
<text x="589.17" y="29.56" class="tl">Solution (generated)</text>
<line x1="565.83" y1="38.60" x2="582.50" y2="38.60" stroke="#ff0000" stroke-width="1.25" stroke-linecap="square"/>
<text x="589.17" y="41.81" class="tl">Solution_test (actual)</text>
<text x="532.10" y="275.0" class="pl" text-anchor="middle" letter-spacing="0.6">(b)</text>
</svg>
</body></html>
